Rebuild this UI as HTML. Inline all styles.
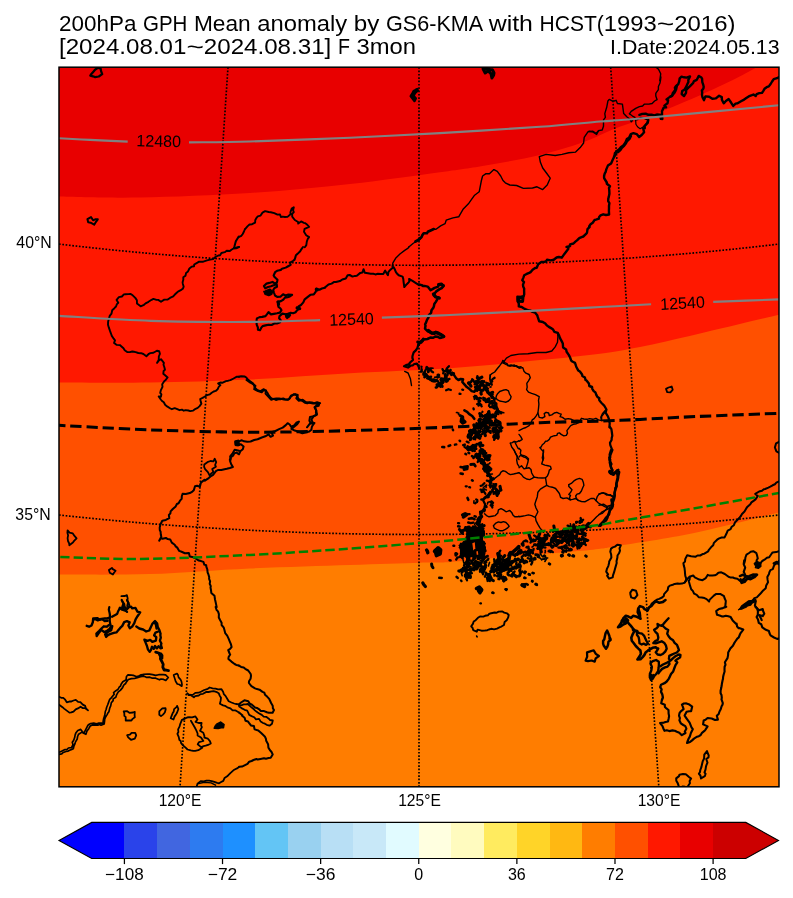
<!DOCTYPE html>
<html><head><meta charset="utf-8"><title>200hPa GPH Mean anomaly</title>
<style>
html,body{margin:0;padding:0;background:#fff;}
body{width:793px;height:898px;overflow:hidden;font-family:"Liberation Sans",sans-serif;}
svg{display:block;will-change:transform;font-family:"Liberation Sans",sans-serif;}
svg text{font-family:"Liberation Sans",sans-serif;}
</style></head><body>
<svg width="793" height="898" viewBox="0 0 793 898">
<rect width="793" height="898" fill="#fff"/>
<defs><clipPath id="mc"><rect x="59.0" y="67.2" width="720.0" height="719.6"/></clipPath></defs>
<g clip-path="url(#mc)">
<rect x="59.0" y="67.2" width="720.0" height="719.6" fill="#e80000"/>
<path d="M59.0 196.5C72.5 196.7 108.2 198.1 140.0 197.5C171.8 196.9 215.0 195.2 250.0 193.0C285.0 190.8 318.3 187.5 350.0 184.0C381.7 180.5 416.7 175.4 440.0 172.2C463.3 169.0 473.3 167.6 490.0 164.7C506.7 161.8 524.4 158.8 540.0 155.0C555.6 151.2 571.0 146.5 583.8 142.0C596.5 137.5 605.7 132.3 616.5 128.1C627.3 123.8 635.2 121.8 648.7 116.5C662.2 111.2 682.7 102.9 697.3 96.5C711.9 90.1 726.3 83.2 736.3 78.3C746.2 73.4 749.9 70.9 757.0 67.0C764.1 63.1 775.3 57.0 779.0 55.0L779.0 786.8L59.0 786.8Z" fill="#ff1800"/>
<path d="M59.0 382.5C74.2 382.5 118.2 383.0 150.0 382.5C181.8 382.0 216.7 381.0 250.0 379.5C283.3 378.0 316.7 375.2 350.0 373.3C383.3 371.4 418.3 370.5 450.0 368.3C481.7 366.1 515.0 362.5 540.0 360.1C565.0 357.7 583.3 355.9 600.0 353.7C616.7 351.5 623.8 350.2 640.0 347.0C656.2 343.8 673.8 339.6 697.0 334.2C720.2 328.8 765.3 318.0 779.0 314.8L779.0 786.8L59.0 786.8Z" fill="#ff5000"/>
<path d="M59.0 574.6C74.2 574.5 118.2 575.1 150.0 574.1C181.8 573.1 216.7 570.0 250.0 568.5C283.3 567.0 321.7 566.0 350.0 565.0C378.3 564.0 403.3 563.2 420.0 562.7C436.7 562.2 433.3 563.2 450.0 562.0C466.7 560.8 496.2 557.8 520.0 555.7C543.8 553.7 576.3 551.4 593.0 549.7C609.7 548.0 603.3 548.3 620.0 545.6C636.7 542.9 666.5 538.8 693.0 533.3C719.5 527.8 764.7 516.0 779.0 512.6L779.0 786.8L59.0 786.8Z" fill="#ff7d00"/>
<g id="coast" fill="none" stroke="#000" stroke-linejoin="round" stroke-linecap="round">
<path d="M90.3 75.6L91.4 73.9L93.8 71.2L95.0 69.7L97.9 67.8L100.7 68.8L101.0 70.9L102.2 74.1L98.8 76.5L95.2 77.1L92.9 76.3L90.3 75.6Z" stroke-width="2.24"/>
<path d="M87.4 219.1L91.0 217.1L93.1 220.3L95.6 219.2L97.8 219.3L96.0 221.8L94.2 224.7L90.6 222.7L88.2 222.3L87.4 219.1Z" stroke-width="2.02"/>
<path d="M417.2 89.2L415.7 90.0L413.7 91.2L412.5 93.4L410.8 96.2L413.0 98.9L414.5 100.9L415.7 98.4L413.4 96.0L415.2 92.7L417.8 90.3" stroke-width="2.6"/>
<path d="M239.0 236.8L241.4 235.8L242.7 234.0L243.6 232.3L245.0 229.0L244.9 229.3L247.4 226.4L249.5 224.5L252.1 224.2L255.1 222.7L255.3 220.0L256.3 218.2L257.8 216.4L260.4 215.7L262.5 212.6L265.1 211.1L268.7 212.0L270.8 212.3L274.3 213.1L277.5 214.6L280.0 214.5L280.9 217.0L282.6 216.6L285.0 217.0L287.5 216.9L290.5 214.3L290.4 212.3L291.7 208.6L293.8 207.2L293.1 210.3L293.8 212.2L292.2 213.9L292.2 216.7L294.8 220.0L298.1 222.0L298.2 223.6L301.1 221.4L303.9 222.8L305.0 223.1L307.3 224.8L309.1 226.9L304.6 228.8L304.0 231.8L306.2 235.2L309.1 237.1L307.8 238.8L306.8 241.6L306.3 245.1L304.8 247.3" stroke-width="1.9"/>
<path d="M483.0 68.8L485.2 73.0L488.1 70.9L491.0 73.6L491.9 78.0L493.6 75.2L494.0 72.9L492.5 69.8L490.4 69.7L487.1 68.6L483.0 68.8Z" stroke-width="3.0"/>
<path d="M419.0 239.5L421.6 237.1L422.3 235.3L423.7 233.2L426.9 233.3L427.8 231.8L431.2 230.2L433.8 229.0" stroke-width="2.6"/>
<path d="M433.8 229.3L436.0 229.3L440.6 225.9L445.1 223.6L446.2 220.2L453.0 217.9L458.7 216.8L463.3 208.9L468.9 203.2L474.6 195.2L479.2 191.8L481.4 180.5L482.6 176.0L486.0 173.7L489.4 173.7L493.9 169.6L497.3 171.4L500.7 176.0L503.0 180.5L505.3 182.8L509.8 185.0L516.6 185.5L523.4 188.4L532.5 188.0L537.0 186.8L542.7 189.6L547.2 185.0L550.2 178.2L546.1 172.5L542.7 168.0L540.4 162.3L539.3 156.7L546.1 154.4L555.2 155.5L562.0 154.4L568.8 152.8L575.6 152.1L580.2 147.6L583.6 143.0L584.2 137.4L588.1 131.7L592.6 131.2L596.0 133.3L599.0 130.6" stroke-width="1.4"/>
<path d="M566.5 247.0L570.1 246.1L570.0 244.4L573.5 243.5L575.4 241.6L577.0 240.4L579.3 238.1L581.6 237.1L583.3 236.5L585.8 234.2L587.0 232.7L587.5 229.2L589.7 226.9L589.2 226.1L590.6 224.2L592.7 222.7L594.6 220.0L595.9 219.7L599.0 218.7" stroke-width="2.4"/>
<path d="M589.0 131.2L592.8 131.9L596.6 134.4L598.5 130.6L602.2 130.0L603.5 126.2L603.5 119.9L605.4 117.4L604.8 113.6L606.7 107.3L607.9 101.0L609.2 99.4L611.7 100.7L614.2 101.0L616.1 100.3L617.4 103.5L622.4 104.1L623.0 108.5L623.7 113.6L626.8 116.7L630.0 119.2L631.2 121.8L632.5 120.5" stroke-width="1.4"/>
<path d="M629.4 113.8L631.2 111.3L635.7 108.3L639.4 106.6L642.6 106.0L644.5 104.1L648.9 104.1L652.1 103.5L654.6 101.0L657.1 99.7L655.8 95.9L655.8 93.4L658.4 89.6L658.4 86.5L659.9 83.3L660.6 79.5L660.9 77.0" stroke-width="1.4"/>
<path d="M629.4 113.8L632.5 116.1L635.0 117.4L635.7 120.5L635.9 124.3L637.5 126.8L640.1 128.7L642.6 127.4L645.1 124.9L647.0 122.4L647.6 119.9L645.7 119.2L643.2 118.0L640.7 117.4L638.8 118.6L636.9 119.9" stroke-width="1.2"/>
<path d="M639.4 114.8L642.2 113.9L645.7 113.7L648.3 114.8L652.2 114.8L654.5 115.3L657.2 114.5L659.9 114.7L660.9 118.9L662.4 119.0L662.0 116.3L662.0 114.5L662.0 111.3L663.7 107.6L666.1 107.4L664.4 105.6L667.5 103.3L668.1 100.3L666.5 99.4L669.9 96.9L672.2 95.9L672.7 93.2L674.8 90.6L676.1 89.6L676.9 85.7" stroke-width="2.4"/>
<path d="M648.3 119.9L647.7 123.0L644.8 125.9L644.7 128.4L643.2 128.5L644.1 132.3L641.7 135.0L639.1 137.1L636.7 134.1L633.4 133.2L630.8 134.1L629.0 137.7L626.8 139.1L625.3 142.7L623.3 145.4L620.8 147.3L618.9 149.5L616.0 151.4L615.2 155.0L614.0 157.0" stroke-width="2.4"/>
<path d="M599.0 217.3L600.6 215.3L603.2 214.3L606.0 215.0L609.1 214.5L608.9 210.8L609.0 208.5L609.0 205.8L609.4 203.1L608.2 201.2L608.3 198.6L608.8 196.9L609.4 193.7L609.3 190.6L609.0 187.8L610.0 186.3L606.8 183.7L606.8 182.5L604.1 178.1L604.1 175.9L604.8 173.3L605.7 171.8L606.3 169.4L607.9 165.6L611.1 163.4L612.6 160.1L613.8 157.4L614.5 155.7L614.9 153.2L618.1 152.2L620.4 150.1L621.9 147.9L623.7 146.2L626.0 143.2L626.9 141.4L629.5 138.9L631.0 136.0" stroke-width="2.4"/>
<path d="M670.5 96.5L672.2 95.4L674.1 93.3L675.4 91.2L674.9 87.7L675.9 86.2L678.2 84.3L679.2 81.4L679.7 78.3L681.5 76.7L684.1 77.3L686.5 77.6L690.0 76.4L688.3 80.1L688.4 81.9L687.5 83.8L686.4 86.4L684.3 89.8L682.2 91.1L681.7 94.0L684.0 96.1L686.0 92.8L686.2 89.8L688.4 87.6L689.8 86.3L690.8 85.3L693.0 83.2L694.0 81.1L696.8 79.8L698.8 75.9L701.4 77.5L702.1 78.8L702.3 82.1L703.1 84.3L703.7 86.7L703.4 88.5L701.9 90.5L702.2 92.7L702.0 95.0L702.5 97.3L704.0 100.2L705.4 96.4L709.2 96.8L712.3 98.7L715.7 98.4L716.9 97.6L719.1 95.7L721.8 97.1L721.9 99.7L723.7 103.3L725.9 101.0L728.7 99.1L730.9 102.3L733.2 105.9L735.6 103.6L737.6 103.3L741.0 101.2L744.1 99.6L745.9 98.2L748.7 96.4L751.9 95.2L753.5 94.5L755.7 96.0L756.7 94.1L759.3 93.1L762.0 92.9L763.5 90.6L764.5 88.8L766.7 87.2L768.8 86.4L770.6 84.0L772.1 81.5L773.7 79.2L777.0 78.2L778.7 77.2" stroke-width="2.4"/>
<path d="M655.7 67.0L658.5 69.3L660.7 73.8L659.8 80.6" stroke-width="1.4"/>
<path d="M239.0 247.0L236.1 248.4L233.4 248.5L231.4 249.7L229.8 251.0L226.7 250.8L224.8 252.2L221.4 253.0L220.1 255.2L218.3 255.5L215.4 257.0L213.1 259.1L210.1 259.6L207.0 260.4L204.0 261.3L202.7 261.8L199.1 261.6L197.5 262.6L194.2 264.5L194.1 266.2L191.9 266.6L189.4 268.5L188.0 271.4L186.1 272.9L185.5 275.7L183.3 277.3L183.3 279.8L182.6 282.3L182.8 283.7L183.7 286.7L182.8 288.8L180.8 290.1L178.0 291.6L177.0 292.5L174.6 294.8L173.2 296.4L170.0 297.9L167.7 299.6L164.3 299.6L161.0 301.8L158.2 299.9L156.5 299.9L153.4 298.9L151.6 299.8L148.5 301.8L145.6 303.4L144.0 304.8L140.6 306.3L137.0 303.6L136.9 300.3L135.3 297.9L132.7 295.3L130.4 293.9L128.2 294.1L125.5 294.2L123.9 294.4L121.9 296.5L118.9 297.1L116.6 299.9L118.3 302.8L116.9 304.2L116.0 306.5L114.4 308.2L112.2 310.2L111.5 313.6L109.7 315.9L108.6 319.8L108.1 321.8L108.0 324.7L108.8 327.4L110.0 330.9L110.9 333.3L111.8 335.9L113.7 338.7L115.0 340.4L114.1 342.9L116.8 344.9L119.9 345.1L121.2 346.2L123.5 348.3L124.7 350.2L127.2 352.0L129.9 352.1L132.2 351.5L133.9 351.8L135.7 352.1L138.3 353.0L141.1 353.2L143.4 354.0L146.4 356.2L148.9 353.8L150.3 353.1L153.4 352.8L156.9 350.7L159.2 351.2L159.9 353.8L158.8 356.5L158.8 358.1L158.7 359.9L157.1 362.8L158.9 360.5L161.0 359.2L163.9 362.9L163.5 364.8L164.3 367.0L165.0 369.8L163.6 371.0L163.3 373.7L164.8 375.0L167.6 377.5L165.7 379.9L164.4 381.0L162.2 384.3L162.5 386.9L160.9 390.1L160.2 392.9L161.4 394.4L160.9 396.8L158.7 396.5L160.8 399.5L162.0 401.0L163.8 402.3L165.1 404.8L167.1 406.4L170.4 408.5L171.9 409.2L174.7 408.2L177.3 409.2L179.5 410.2L182.0 409.6L183.8 410.7L185.6 410.1L188.4 410.5L190.2 411.1L193.2 410.6L195.6 408.8L197.7 407.9L199.6 406.1L201.4 403.6L200.7 401.6L200.2 399.0L202.6 397.9L204.1 397.0L207.0 395.2L209.9 394.3L211.7 392.8L213.7 391.5L215.7 390.9L217.6 389.3L218.7 386.9L220.4 385.2L218.1 383.5L220.7 382.5L222.7 382.7L225.9 381.1L228.3 380.7L230.4 380.2L233.6 378.5L236.9 376.7L239.0 376.7" stroke-width="1.9"/>
<path d="M303.0 247.0L301.3 249.3L300.2 251.2L297.5 253.9L295.9 255.2L295.6 256.6L294.6 259.6L292.9 261.0L290.1 262.7L290.7 264.8L287.7 266.5L285.7 267.6L282.0 268.7L280.7 269.7" stroke-width="2.02"/>
<path d="M325.0 287.6L326.1 286.6L328.5 284.5L331.6 283.6L334.2 281.9L335.9 282.0L340.0 281.1L342.3 279.5L345.8 278.5L347.6 275.3L349.7 275.0L352.5 276.6L355.0 275.9L356.8 275.7L360.3 272.9L362.4 272.5L363.6 269.2L364.8 272.8L367.9 273.2L370.7 273.7L373.3 273.8L375.4 274.4L377.9 273.8L380.6 274.0L383.3 273.9L385.2 270.6L386.6 273.3L387.9 275.2L388.5 271.8L390.2 269.9L393.5 267.1L394.9 269.6L395.8 271.9L396.7 273.2L398.7 275.3L402.6 276.6L403.3 279.0L403.6 282.1L403.9 284.1L404.3 287.0L406.8 284.2L408.0 283.1L409.4 281.4L409.1 279.0L412.5 280.9L416.3 283.4L419.1 285.2" stroke-width="2.02"/>
<path d="M392.2 266.3L392.9 262.9L395.6 258.3L400.2 253.8L404.7 250.4L408.1 248.1L408.8 247.0" stroke-width="1.4"/>
<path d="M419.0 342.3L418.0 345.7L417.3 348.2L415.8 350.4L413.7 352.4L412.5 356.0L412.4 357.9L413.0 359.9L410.1 362.5L408.8 364.4L406.0 365.2L404.0 366.2L408.0 367.5L411.0 365.5L412.9 365.3L414.3 364.0L416.9 363.6L418.6 366.4L419.2 368.5" stroke-width="2.24"/>
<path d="M404.7 371.4L408.1 373.0L410.4 378.7L411.5 385.5" stroke-width="1.4"/>
<path d="M239.0 376.8L241.2 376.2L244.8 376.6L246.3 377.5L247.9 379.6L250.1 381.2L252.9 383.2L253.9 384.7L254.8 387.7L256.9 389.8L259.5 391.0L261.0 390.9L263.8 389.2L267.2 392.4L268.8 395.4L270.8 397.9L272.8 399.1L276.4 398.5L279.0 398.5L281.9 399.1L284.1 399.6L287.7 399.8L289.1 398.7L291.0 396.4L293.7 394.3L297.1 395.4L298.3 398.9L300.5 400.0L302.8 401.2L304.9 402.7L307.3 403.3L309.1 402.3L311.9 402.6L313.4 403.0L316.4 403.7L319.3 403.1L318.7 405.7L314.8 406.9L316.3 410.6L315.9 412.3L316.5 415.0L313.7 416.0L311.4 419.8L312.9 422.7L309.7 423.8L307.0 427.3" stroke-width="2.02"/>
<path d="M419.0 284.5L421.7 285.1L423.3 286.1L424.6 285.9L427.7 286.6L430.6 290.3L432.9 288.9L434.6 287.9L437.6 286.9L439.4 284.5L443.7 285.5L441.9 288.0L439.6 289.1L436.3 291.4L434.8 293.2L433.8 295.5L436.5 297.0L438.4 297.2L437.1 299.7L436.0 301.6L434.3 304.0L434.0 305.9L433.5 307.5L431.5 310.3L431.1 312.9L428.9 315.1L428.5 317.4L427.0 319.9L426.0 322.7L425.1 324.3L425.5 325.8L425.0 328.6L427.8 331.3L431.4 332.9L433.6 333.0L435.9 332.0L438.7 334.0L440.6 334.2L444.2 336.6L441.0 337.7L439.7 337.9L437.3 336.7L435.2 336.6L433.2 337.8L430.3 337.6L427.4 339.0L425.7 339.2L423.3 339.6L421.2 341.0L418.6 344.8" stroke-width="2.5"/>
<path d="M568.4 247.0L568.2 249.1L566.3 251.4L564.4 253.9L563.2 255.6L561.8 257.7L558.8 257.0L556.6 257.5L553.7 259.8L550.8 260.4L547.0 259.8L546.3 261.0L544.6 261.9L541.3 262.0L538.2 264.2L536.7 267.7L535.1 268.0L532.6 269.7L530.7 272.1L529.1 272.9L526.2 274.2L524.2 275.3L523.4 277.6L522.3 280.2L524.0 282.1L523.0 284.6L523.2 286.6L524.2 288.7L524.1 290.4L524.2 294.3L523.7 296.1L520.8 296.9L517.4 296.6L517.4 299.6L517.6 301.5L518.8 303.5L518.8 306.4L521.7 307.0L523.6 308.2L525.3 309.1L528.2 310.3L530.1 310.4L532.6 311.9L535.0 312.5L537.2 315.2L537.8 317.2L539.2 321.3L542.8 322.0L545.3 323.6L546.7 325.3L548.5 326.6L551.0 328.1L553.1 329.6L554.4 331.8L557.8 332.9L559.2 335.8L559.8 337.6L560.7 339.4L562.3 342.4L562.8 343.5L563.1 347.5L566.1 349.4L566.6 351.8L568.9 355.1L570.1 357.5L571.2 360.6L572.3 361.5L575.0 362.8L576.0 365.9L576.5 367.2L578.2 370.4L579.9 371.5L582.1 374.4L582.4 375.9L584.9 377.5L585.6 380.2L586.5 380.4L588.9 383.4L589.3 386.0L592.0 387.0L592.3 388.8L593.7 391.1L595.4 392.4L596.2 394.6L597.3 396.8L599.3 398.2" stroke-width="2.4"/>
<path d="M518.9 297.4L523.0 297.2L522.6 301.4L519.0 301.3L518.9 297.4Z" stroke-width="3.0"/>
<path d="M557.5 332.8L557.9 336.7L557.5 342.3L555.2 346.9L551.8 351.0L546.1 352.5L537.0 352.5L528.0 353.7L518.9 354.1L510.9 355.5L506.4 358.2L503.0 362.8" stroke-width="1.4"/>
<path d="M503.0 362.8L506.4 364.6L509.8 366.2L514.3 365.0L517.7 367.3L521.1 366.8" stroke-width="1.4"/>
<path d="M666.0 388.9L668.5 387.5L671.7 386.5L672.7 389.8L670.4 392.4L667.2 392.1L666.0 388.9Z" stroke-width="1.79"/>
<path d="M599.0 398.6L599.3 400.3L601.3 402.7L604.2 405.6L606.5 409.5L605.6 412.7L607.9 416.3L608.9 419.0L609.1 420.4L609.7 423.3L609.4 427.3" stroke-width="2.24"/>
<path d="M606.3 409.3L602.4 413.8L600.8 417.2L601.7 420.6L609.2 420.6" stroke-width="1.4"/>
<path d="M239.0 450.8L234.7 449.8L232.8 453.1L230.2 456.4L230.8 458.7L230.1 461.2L231.1 464.0L232.9 467.0L229.8 468.0L226.8 468.8L224.5 469.3L221.3 470.1L217.9 470.0L215.9 471.2L213.1 474.8L210.5 476.5L208.7 478.1L204.9 480.6L204.5 479.7L202.2 481.6L200.8 482.9L199.9 486.7L197.1 485.7L195.0 486.3L193.8 490.3L192.4 491.6L189.8 493.1L185.8 494.0L182.6 493.7L181.8 496.3L181.7 498.8L180.0 500.7L178.6 503.3L176.9 504.0L175.7 506.4L172.8 509.0L170.6 511.4L170.4 513.3L168.9 515.0L169.3 518.1L165.8 519.9L162.3 520.7L160.4 524.5L159.7 527.4L159.8 530.1L160.6 531.8L160.8 534.6L161.3 536.7L159.2 540.7L160.9 538.0L162.5 538.7L165.9 537.9L167.7 539.1L170.2 539.4L171.8 542.6L174.7 544.7L175.7 546.4L177.5 547.9L179.2 550.9L181.6 551.8L184.9 553.2L188.9 553.1L189.8 556.5L192.3 556.9L195.0 558.0L198.8 560.6L201.1 561.1L203.4 561.9L204.3 564.6L206.2 565.2L206.3 566.6L207.3 569.3L207.6 572.5L208.3 574.0L209.2 577.1L209.1 578.8L210.1 581.3L209.7 583.8L210.8 586.1L210.5 587.5L211.1 590.8L211.3 592.9L213.6 595.0L214.5 595.8L215.0 599.5L215.5 601.6L216.0 603.9L216.7 607.1" stroke-width="2.02"/>
<path d="M204.3 464.5L207.4 462.2L210.5 461.0L213.5 461.3L214.7 458.7L216.2 462.1L215.1 465.0L215.9 466.7L212.2 469.0L213.4 472.1L211.2 473.6L209.7 475.6L207.9 472.1L205.1 469.1L204.1 466.9L204.3 464.5Z" stroke-width="1.79"/>
<path d="M67.6 530.3L69.5 532.6L72.8 533.4L74.7 536.2L76.6 538.4L74.1 540.9L72.9 542.5L69.3 545.2L69.2 543.5L68.0 541.0L67.6 538.2L68.1 535.3L67.4 532.8L67.6 530.3Z" stroke-width="1.79"/>
<path d="M108.9 570.0L111.9 567.9L112.8 569.1L115.6 570.7L114.0 572.7L112.9 574.6L109.8 572.7L108.9 570.0Z" stroke-width="1.79"/>
<path d="M121.4 596.1L124.8 596.0L126.9 595.1L127.7 598.4L127.3 600.7L128.4 602.4L129.4 605.1L129.2 607.0" stroke-width="1.79"/>
<path d="M122.6 601.8L124.4 604.0L124.7 607.1" stroke-width="1.79"/>
<path d="M235.6 441.8L238.0 441.1L238.6 444.7L235.9 444.7L235.6 441.8Z" stroke-width="3.0"/>
<path d="M246.5 380.0L249.3 382.0L252.4 383.7L255.4 385.9L254.2 389.1L258.0 391.0L261.7 392.2L263.7 390.0L266.1 390.6L265.5 393.6L268.3 396.5L271.3 399.7L273.9 398.9L275.9 399.9L278.4 399.3L280.4 399.2L283.2 398.4L284.8 399.2L288.8 399.4L289.9 398.2L290.9 395.7L295.2 394.1L297.7 395.0L296.3 398.3L298.8 400.7L302.7 399.7L305.7 402.1L309.4 402.7L313.2 403.6L317.1 402.2L320.1 403.1L317.0 405.0L314.6 407.5L316.1 410.2L317.0 414.3L313.9 416.2L310.0 417.0L309.4 420.7L310.7 423.2L314.5 423.0L312.5 425.6L311.8 427.2L311.4 429.7L309.3 431.5L305.2 432.5L302.4 433.2L298.9 431.7L294.7 430.6L291.4 428.9L293.9 427.0L297.2 424.2L298.9 421.6L296.7 422.4L294.2 425.5L291.1 426.8L289.7 424.5L287.6 423.2L285.8 425.1L282.7 427.6L279.1 429.2L275.5 431.0L271.4 432.2L273.0 435.6L270.6 436.8L268.6 434.3L265.3 436.3L261.8 437.5L257.6 439.3L254.2 440.0L250.6 441.5L247.2 441.8L244.1 441.3L241.9 440.3L238.7 441.4L236.0 442.7L237.7 445.2L240.9 444.3L243.6 446.5L242.8 449.3L240.3 451.3L239.0 454.3L236.5 452.6L234.4 453.2L233.0 455.7L230.9 457.2L229.8 459.8" stroke-width="2.02"/>
<path d="M609.9 427.0L611.4 429.2L611.9 432.5L612.3 435.7L611.7 438.1L611.6 440.0L610.0 442.8L610.3 445.1L611.7 448.6L610.6 451.2L609.6 454.5L610.3 457.0L609.3 459.8L611.5 464.0L610.7 465.8L611.2 468.0L612.5 470.1L610.6 473.4L613.7 473.7L615.2 472.4L617.1 470.3L619.3 472.2L618.4 476.0L618.2 478.1L617.6 480.5L616.6 483.5L616.8 485.8L615.3 487.9L615.2 490.3L614.6 492.8L614.6 496.0L614.3 498.5L613.0 502.1L612.1 503.9L612.3 506.4L610.2 509.7L609.6 511.7L609.2 514.2L607.1 516.7L605.9 517.7L603.4 521.3L602.4 522.3L600.1 524.6L598.9 525.9" stroke-width="2.24"/>
<path d="M599.0 494.0L603.5 492.8L606.9 495.1L610.3 494.6L613.1 497.4" stroke-width="1.4"/>
<path d="M599.0 505.3L603.5 504.2L606.9 506.4L610.3 505.3L609.2 509.8" stroke-width="1.4"/>
<path d="M599.0 514.4L602.4 513.3L605.8 509.8L608.1 506.4" stroke-width="1.4"/>
<path d="M606.9 568.9L608.3 566.1L609.1 563.1L609.2 561.6L611.4 557.6L611.1 554.2L610.3 551.7L611.0 548.6L612.8 547.4L615.0 546.6L617.3 544.8L620.8 545.3L619.5 548.4L620.0 550.6L619.0 553.3L617.5 555.5L617.4 557.6L616.5 561.2L616.7 563.0L615.7 566.4L614.9 569.2L614.1 572.2L613.0 575.3L612.7 577.4L609.1 578.6L607.1 575.6L608.1 574.4L606.2 571.7L606.9 568.9Z" stroke-width="2.02"/>
<path d="M630.3 592.7L632.4 589.7L636.0 590.7L637.4 595.1L634.6 598.5L631.2 597.4L630.4 594.3L630.3 592.7Z" stroke-width="2.02"/>
<path d="M779.0 481.5L776.3 482.7L774.9 484.3L772.6 485.3L770.3 486.7L768.4 487.6L765.1 489.0L763.8 489.3L762.0 490.8L759.1 491.5L755.3 493.9L757.8 496.0L755.5 499.4L753.9 500.6L751.4 502.4L750.3 504.2L747.5 506.7L746.1 508.7L744.5 511.5L742.0 514.0L740.9 516.0L739.7 517.4L737.3 520.0L735.1 522.2L733.9 525.2L731.7 526.8L730.6 529.1L727.7 530.6L726.4 533.8L724.6 537.4L721.6 537.5L719.2 538.4L717.1 539.7L713.9 542.9L713.2 545.3L711.2 547.1L708.9 549.8L708.2 551.3L704.3 553.7L703.0 553.9L700.2 555.5L697.5 555.5L695.7 556.7L693.3 556.4L691.1 556.2L687.2 555.3L685.3 558.9L685.0 561.6L683.4 563.2L683.8 565.6L684.5 567.9L684.9 571.3L685.0 573.1L685.3 576.0L686.1 578.2L686.1 580.1L684.7 582.6L681.9 583.6L679.5 583.7L677.5 583.4L674.7 583.9L672.8 584.7L669.8 585.6L668.2 587.3L667.7 590.1L666.3 591.6L664.1 594.1L663.8 596.0L662.1 597.5L659.2 598.9L657.5 599.4L654.4 601.4L651.6 603.8L650.2 606.9" stroke-width="2.02"/>
<path d="M779.0 441.8L776.1 443.3L774.9 447.5L776.4 451.3L778.8 452.7" stroke-width="2.02"/>
<path d="M684.8 582.5L685.8 581.2L687.5 578.8L689.6 576.8L693.2 575.5L694.8 577.4L697.8 578.8L699.3 579.6L702.5 580.2L705.8 578.1L707.7 574.9L709.6 575.6L712.4 575.5L714.9 575.3L716.8 574.3L718.4 572.7L721.3 572.3L724.8 574.0L728.5 576.8L730.8 577.6L733.0 577.5L734.7 578.3L737.4 578.8L741.0 581.6L742.4 580.0L744.6 578.1L746.9 576.2L748.8 577.5L752.6 577.1L753.2 575.5L756.7 574.8L754.2 575.1L754.0 576.2L751.1 578.5L748.6 578.5L746.8 579.6L744.8 582.1L741.7 583.1" stroke-width="2.02"/>
<path d="M689.8 576.8L689.6 579.7L688.7 580.8L689.5 583.7L690.1 585.9L691.2 589.2L692.8 590.9L694.2 593.7L696.7 594.8L698.7 597.2L701.8 597.6L704.5 598.1L706.6 599.1L709.1 601.6L709.5 599.9L712.3 597.1L713.8 595.6L715.9 594.1L717.4 593.9L720.6 594.1L724.0 596.2L724.5 598.0L725.8 600.9L725.6 603.5L725.1 607.2" stroke-width="2.02"/>
<path d="M744.3 563.2L745.1 560.1L745.4 557.5L746.5 554.6L749.1 553.0L750.7 551.8L753.3 551.2L756.4 553.2L757.2 555.9L757.8 558.4L756.6 560.2L756.9 563.2L759.3 565.8L760.9 562.7L762.2 561.0L764.5 559.7L766.9 557.8L769.2 557.2L771.4 554.0L772.6 552.4L776.2 552.1L778.9 551.2" stroke-width="2.02"/>
<path d="M779.0 560.9L777.5 562.9L774.7 564.5L773.9 565.9L772.8 569.1L770.4 570.1L769.3 572.5L769.0 574.1L767.3 577.0L767.6 579.9L768.0 582.2L766.2 585.5L765.7 588.2L763.2 590.4L761.0 593.0L759.8 594.3L756.8 597.4L754.4 598.1L753.7 599.3L751.7 601.3L749.2 602.8L746.6 604.1L744.7 605.1L742.1 607.2" stroke-width="2.02"/>
<path d="M59.0 752.3L61.5 751.3L65.0 749.5L67.0 749.5L68.4 748.0L71.6 747.5L73.0 744.7L72.3 742.3L73.5 740.6L74.6 737.8L75.1 735.1L75.8 733.1L77.8 730.5L80.7 729.4L82.3 731.5L83.9 733.2L84.8 731.4L87.1 726.9L87.5 726.1L88.4 724.8L90.7 723.5L93.8 723.1L96.3 723.7L98.3 723.2L101.2 723.1L103.6 723.0L103.1 721.4L103.6 718.8L104.6 715.8L104.9 714.3L105.3 711.5L106.2 709.3L106.6 707.5L107.7 704.8L108.4 702.9L109.7 699.3L111.0 698.1L114.2 694.3L113.6 692.7L115.9 690.7L117.8 689.6L119.4 686.8L120.5 686.2L121.1 684.2L122.8 681.7L126.2 679.7L126.2 678.3L126.5 676.5L128.0 674.8L131.4 675.2L133.3 675.4L136.2 676.5L138.0 676.4L141.1 674.8L142.8 674.5L143.6 674.4L147.6 674.0L149.5 674.1L152.7 674.6L155.6 675.4L158.7 674.7L161.0 674.6L163.2 674.7L165.6 674.9L168.3 677.5L165.8 680.4L163.6 679.4L161.0 679.0L159.5 679.8L155.7 678.2L152.4 678.2L149.8 677.2L146.7 677.4L145.3 676.8L143.3 676.1L140.5 676.8L137.4 677.8L134.7 678.4L131.5 678.6L128.3 679.5L126.3 682.2L125.6 683.5L123.7 685.1L122.6 687.6L120.3 690.4L118.3 691.9L116.7 694.6L115.8 697.2L113.2 698.9L113.1 700.6L111.3 702.8L110.7 705.9L109.8 707.9L108.9 711.7L107.7 713.3L107.1 714.6L105.6 717.0L104.7 719.2L104.6 720.9L104.2 723.9L101.0 725.2L99.6 724.5L97.8 725.2L95.3 724.8L91.9 725.2L90.2 726.0L88.9 728.4L87.0 731.1L85.9 734.3L83.6 733.3L82.0 732.1L78.6 734.2L77.6 736.5L77.2 739.0L75.4 742.1L75.0 743.6L73.8 746.5L73.3 748.8L71.3 749.6L68.2 751.1L65.9 751.5L62.8 752.7L61.7 753.9L58.8 754.4" stroke-width="1.68"/>
<path d="M173.6 675.1L177.0 673.5L177.9 674.8L178.6 677.4L180.6 679.6L181.5 681.6L182.0 684.7L181.8 686.2L179.3 684.5L177.3 684.0L175.6 681.3L175.0 679.2L173.6 675.1Z" stroke-width="1.68"/>
<path d="M187.2 693.3L189.4 695.1L193.1 694.6L195.3 692.9L198.6 692.7L201.4 691.5L204.2 690.0L207.8 688.8L209.7 687.5L212.6 688.3L215.5 688.6L218.1 689.3L221.5 689.2L223.1 691.7L223.8 694.1L225.5 695.9L227.2 698.7L228.7 701.3L231.5 702.5L234.1 703.5L235.9 704.0L239.2 704.4" stroke-width="1.79"/>
<path d="M188.4 695.1L190.2 694.7L193.9 697.3L195.1 696.1L198.7 695.5L200.6 694.1L203.0 693.8L206.4 691.9L208.5 692.0L211.7 691.4L213.6 691.2L217.0 692.2L218.7 693.2L219.7 695.6L221.0 697.8L220.6 700.9L219.9 703.7L223.1 705.4L225.0 705.8L227.3 707.3L230.4 708.3L232.6 710.4L235.0 710.3L235.7 710.6L239.3 712.8" stroke-width="1.79"/>
<path d="M123.7 711.4L127.2 711.2L129.4 712.8L132.9 712.5L134.8 711.8L134.6 714.9L134.8 717.3L132.6 718.9L131.4 720.5L129.0 720.4L125.7 720.5L125.7 716.9L124.4 715.9L124.3 713.1L123.7 711.4Z" stroke-width="1.79"/>
<path d="M127.1 735.2L129.9 734.7L131.6 732.8L135.2 732.8L136.2 735.3L134.8 738.6L131.0 739.8L128.2 737.4L127.1 735.2Z" stroke-width="1.79"/>
<path d="M159.3 711.4L162.1 708.5L165.5 708.2L165.7 709.5L164.8 712.5L163.0 714.6L161.0 716.1L159.3 714.7L159.3 711.4Z" stroke-width="1.79"/>
<path d="M170.7 718.2L171.3 716.6L172.9 712.7L173.7 711.6L174.1 709.1L176.7 706.9L177.1 705.9L178.4 709.0L177.0 712.7L175.6 715.1L174.6 716.4L173.5 719.5L170.7 718.2Z" stroke-width="1.79"/>
<path d="M183.4 719.4L187.1 717.5L189.1 717.2L192.1 717.4L195.4 716.4L197.5 719.5L195.5 721.8L198.7 723.0L201.6 723.0L201.1 725.4L201.9 727.1L200.0 730.8L203.3 732.7L204.4 735.9L204.4 737.7L207.9 738.7L209.9 741.1L210.8 743.4L208.8 744.6L205.7 745.7L203.6 746.2L201.1 747.1L197.7 744.3L199.1 742.1L203.4 741.0L201.0 737.4L197.6 735.4L197.6 733.5L196.3 730.4L194.8 727.5L192.8 724.0L190.9 720.7" stroke-width="1.79"/>
<path d="M183.4 719.4L181.9 719.9L180.2 724.1L179.5 726.7L178.1 729.4L178.4 732.0L177.4 733.8L178.7 736.9L179.4 740.0L180.7 740.9L181.1 743.2L183.0 745.4L185.6 747.7L187.5 749.5L190.8 750.4L193.2 750.9L195.2 750.8L198.3 750.2L202.3 747.7" stroke-width="1.79"/>
<path d="M214.0 728.2L215.2 725.7L217.0 723.7L220.8 721.9L224.2 724.4L223.6 727.9L221.1 728.0L218.2 728.6L214.1 728.3Z" fill="#000" stroke-width="1.2"/>
<path d="M239.0 767.0L237.0 768.4L235.2 769.3L233.4 770.3L230.6 772.8L228.6 774.8L227.2 776.3L224.5 778.1L223.3 780.9L220.7 782.3L219.1 783.3L217.2 782.9L214.3 781.9L211.7 781.1L209.1 780.7L206.4 780.7L203.9 781.4L200.7 781.1L197.5 783.8L196.5 786.9" stroke-width="1.79"/>
<path d="M198.6 783.6L204.3 782.2L211.1 782.9L215.6 785.2" stroke-width="1.4"/>
<path d="M59.0 696.7L61.3 697.8L63.3 697.9L64.9 699.3L66.8 702.3L70.0 701.3L71.4 701.5L73.5 700.5L75.8 699.9L78.1 701.9L80.4 702.1L82.8 704.6L85.2 705.9L86.0 708.4L88.0 710.3L85.2 708.2L82.6 708.1L80.6 706.7L77.9 708.4L75.7 709.4L73.5 711.6L71.3 712.4L69.4 712.6L67.1 710.9L64.1 708.6L62.5 707.2L59.1 704.7" stroke-width="1.79"/>
<path d="M215.6 607.0L216.6 610.0L218.0 611.4L218.9 614.1L218.8 617.5L220.2 620.3L221.6 622.7L221.6 625.0L223.8 627.7L224.3 629.6L225.2 633.1L227.2 635.6L228.6 638.6L229.7 641.3L231.0 644.4L231.6 647.0L230.1 648.8L228.2 650.0L229.6 653.5L230.2 654.5L228.6 657.0L228.4 658.9L231.4 661.6L234.6 664.0L236.2 664.9L238.8 665.4" stroke-width="2.02"/>
<path d="M239.0 665.6L241.1 666.9L243.7 667.5L245.2 668.8L248.2 670.5L250.7 674.0L251.0 675.8L250.6 678.7L249.0 681.2L248.9 683.0L251.4 686.2L255.0 688.4L257.0 689.1L259.5 689.7L262.5 691.8L264.3 692.7L265.0 694.7L267.1 696.6L269.2 698.9L270.2 701.0L271.1 703.0L272.7 705.7L272.9 708.3L274.0 710.1L272.6 712.7L268.8 712.7L266.9 712.3L264.1 711.1L260.9 711.1L259.6 709.7L256.9 707.9L255.0 707.6L251.4 704.3L249.6 703.5L248.3 701.2L244.4 700.3L241.0 702.5L239.0 704.5" stroke-width="2.02"/>
<path d="M239.0 705.7L241.7 705.1L243.7 704.4L246.0 704.4L247.9 704.0L251.2 707.1L253.9 709.3L254.8 710.4L257.7 712.5L259.2 713.4L261.8 714.9L263.7 716.6L266.2 716.8L268.8 718.7L269.9 720.0L272.8 720.5L272.0 723.7L269.5 725.7L266.7 724.8L264.9 723.7L263.0 723.0L260.7 721.6L259.1 718.9L256.0 719.3L254.1 717.2L251.6 716.1L249.2 714.9L248.1 712.3L247.2 710.6L244.6 709.8L241.5 708.1L239.2 706.6" stroke-width="1.79"/>
<path d="M239.0 712.5L242.4 715.3L242.1 715.7L244.6 717.8L245.5 720.8L248.0 721.5L249.0 722.9L250.9 725.4L253.9 726.0L254.6 729.4L258.3 730.5L261.2 733.1L262.5 734.3L264.8 736.4L265.9 738.7L266.2 740.8L268.1 744.2L268.4 747.6L270.0 750.2L271.4 751.7L272.7 754.4L270.7 757.7L268.6 758.1L266.0 758.8L264.0 758.2L260.5 759.0L257.7 759.6L256.5 759.0L253.5 760.0L251.6 761.0L249.2 761.7L247.5 763.9L245.5 764.9L242.0 766.6L239.1 766.7" stroke-width="2.02"/>
<path d="M471.2 626.3L472.9 623.9L473.7 621.5L475.7 620.2L477.9 617.8L480.0 616.5L483.3 616.6L485.1 615.8L487.9 615.3L489.0 614.0L491.3 613.2L494.6 612.5L496.6 612.8L498.6 611.6L502.4 611.5L504.2 612.6L507.1 613.3L508.7 615.0L508.2 617.4L506.7 620.3L504.6 622.0L504.0 625.0L501.0 626.8L499.9 627.2L497.0 628.6L494.1 629.4L491.2 628.8L488.9 629.5L487.4 630.2L484.5 630.6L481.5 630.7L477.6 629.7L476.8 631.7L473.2 630.1L472.6 627.9L471.2 626.3Z" stroke-width="1.9"/>
<path d="M476.7 636.1L477.1 636.8" stroke-width="1.68"/>
<path d="M587.0 652.4L590.3 651.4L593.7 650.3L595.8 653.8L598.9 656.0L595.7 658.3L594.7 661.7L591.7 660.5L588.0 661.2L585.6 660.6L587.2 656.6L587.0 652.4Z" stroke-width="2.24"/>
<path d="M661.9 700.1L661.2 703.2L664.8 704.8L664.9 706.9L665.8 707.8L668.5 710.0L668.6 713.5L669.1 716.1L668.6 718.8L668.0 721.5L665.6 722.0L663.9 722.6L660.1 723.0L662.5 726.1L663.6 729.0L664.5 730.8L666.7 730.3L669.3 731.1L672.5 730.4L674.8 730.7L676.9 731.7L679.3 732.7L681.8 735.2L685.5 733.0L684.8 731.6L686.4 728.7L685.3 726.1L683.3 725.0L680.8 723.3L679.4 720.2L679.9 718.2L679.0 715.7L679.5 713.2L680.8 711.3L683.6 709.1L682.8 706.6L681.9 704.6L683.8 703.5L686.4 703.4L688.7 704.2L692.2 706.6L691.1 711.2L689.2 711.2L686.6 711.7L684.6 715.6L685.5 717.0L687.2 719.3L689.6 722.6L690.8 725.7L691.5 727.4L692.8 729.2L690.9 733.0L689.8 736.6L688.7 738.5L687.4 741.7L687.0 743.0L690.1 741.9L691.8 740.6L694.0 738.6L697.1 736.7L698.9 736.2L700.7 735.0L702.0 732.8L704.7 730.7L705.5 729.6L707.6 726.4L703.1 724.4L703.7 720.5L705.5 719.8L707.6 718.0L711.7 718.5L715.0 720.0L717.9 719.6L716.8 715.8L718.7 714.0L719.5 711.5L720.7 709.3L721.6 706.3L722.5 704.7L722.8 703.0L721.5 699.4L721.8 697.8L721.5 695.1L720.6 693.3L720.6 690.7L721.2 688.1L721.7 685.5L721.9 683.7L722.6 680.3L723.0 678.7L723.1 677.0L723.6 674.7L724.6 671.5L724.5 669.7L724.6 666.7L725.5 664.7L724.9 662.3L726.0 660.5L727.5 658.1L728.1 655.1L728.2 652.4L730.1 648.9L730.6 648.2L732.9 645.8L734.1 643.4L735.3 641.5L737.3 638.6L738.8 637.4L739.9 634.5L740.6 633.1L743.3 629.6L739.1 628.0L738.7 628.2L737.1 626.6L736.6 623.7L736.2 624.0L732.7 620.5L730.7 617.1L728.3 616.3L725.8 615.8L723.2 616.5L721.7 616.4L719.7 615.5L717.0 614.7L716.2 611.1L719.0 609.0L722.8 608.1L726.3 606.8" stroke-width="2.13"/>
<path d="M755.6 607.0L757.2 608.6L757.9 611.3L757.8 614.8L756.6 617.0L758.0 619.5L758.8 622.9L761.2 624.2L762.3 627.4L765.9 629.8L768.9 631.0L769.5 633.3L770.5 635.4L774.0 637.5L777.1 638.9L778.8 638.6" stroke-width="2.13"/>
<path d="M603.1 641.0L604.3 639.3L604.8 636.8L605.5 633.4L607.1 630.5L608.6 634.0L609.3 635.8L610.2 640.2L608.5 641.6L608.1 644.5L607.3 646.8L606.0 648.7L603.7 645.5L603.1 643.6L603.1 641.0Z" stroke-width="2.46"/>
<path d="M698.9 773.8L700.0 772.0L700.3 770.0L701.4 767.1L701.9 764.7L702.8 761.1L704.1 758.5L704.2 756.5L704.3 754.7L707.0 751.1L707.2 752.0L708.7 755.4L708.5 757.4L706.3 759.0L707.5 762.7L706.4 765.2L706.0 766.4L705.5 769.6L704.5 772.4L705.6 773.8L704.8 776.2L701.0 778.4L700.4 775.5L698.9 773.8Z" stroke-width="2.02"/>
<path d="M676.2 778.4L679.0 776.1L679.4 774.8L683.0 774.1L685.8 774.3L687.3 775.6L688.7 776.8L691.1 778.6L689.6 781.1L689.9 783.2L688.4 785.5L687.7 786.9L685.1 786.8L682.4 786.6L680.6 787.2L678.7 787.2L678.5 785.3L677.7 783.1L676.3 780.8L676.2 778.4Z" stroke-width="2.02"/>
<path d="M424.5 373.5L424.7 373.8L426.5 374.8M421.7 367.6L421.2 366.9L421.9 366.5M423.2 375.0L424.7 374.2L426.3 373.7M421.5 370.1L421.6 368.4L421.1 366.4M425.3 374.2L425.6 374.9L427.0 374.2M428.5 368.6L431.6 368.1L433.1 368.2" stroke-width="1.6"/>
<path d="M420.6 371.7L421.8 371.5L421.7 369.7M424.5 372.0L424.4 371.6L424.6 372.9M423.6 373.2L424.4 372.2L426.0 369.2M430.1 368.8L431.6 371.4L433.1 372.2" stroke-width="2.3"/>
<path d="M426.8 367.4L428.5 369.4L428.3 371.6M423.8 374.0L424.9 374.6L426.8 375.8M424.9 373.6L425.8 375.4L424.7 376.9" stroke-width="3.1"/>
<path d="M434.6 377.3L436.2 377.5L438.1 377.2M428.9 379.4L430.1 378.7L430.1 376.9M441.9 381.9L443.3 382.1L443.1 382.0M435.2 377.4L436.9 377.0L439.0 377.2M426.8 378.6L429.5 379.6L430.3 380.4M438.3 384.3L437.9 384.0L439.3 384.4M437.2 377.7L437.9 377.6L439.8 377.1" stroke-width="1.6"/>
<path d="M438.9 383.4L439.2 383.0L440.5 384.0M428.2 376.4L429.5 377.2L431.1 376.7M438.6 384.2L439.7 384.3L441.0 385.7M436.9 380.4L437.2 380.6L438.5 382.3M435.7 387.5L436.5 387.6L437.9 386.1M441.6 385.0L441.3 384.5L442.9 382.9M432.3 381.1L434.0 381.4L437.0 380.1M439.0 384.0L438.7 382.5L437.7 380.9M426.8 375.9L428.7 377.0L430.7 377.3" stroke-width="2.3"/>
<path d="M437.7 376.8L438.7 375.1L438.0 375.1M431.9 380.1L434.0 379.7L435.0 380.4M427.8 377.6L428.6 377.4L430.2 378.5M432.1 380.5L434.2 380.7L435.8 380.9M439.8 383.6L441.1 385.2L440.5 386.3M437.0 384.8L439.4 385.3L440.6 385.5M440.9 379.6L441.4 378.8L443.8 379.3M441.5 381.8L443.1 381.6L443.2 381.9M439.1 384.8L440.7 385.9L442.2 386.3" stroke-width="3.1"/>
<path d="M444.6 379.0L446.8 378.2L447.0 376.6M447.4 370.8L449.4 371.2L451.0 370.1" stroke-width="1.6"/>
<path d="M446.9 370.3L447.7 371.3L448.2 372.5M445.3 370.8L446.2 371.5L448.7 372.5M446.3 369.6L447.0 368.2L448.9 366.2M449.3 373.2L449.6 372.5L450.4 369.9M446.1 381.7L448.4 379.4L449.5 378.9M443.2 373.4L443.8 371.6L442.5 369.1M451.3 373.0L451.4 374.4L452.5 374.2M447.1 370.5L447.7 373.3L447.5 375.2" stroke-width="2.3"/>
<path d="M451.4 374.5L452.2 374.0L453.6 373.6M445.7 380.4L447.3 380.9L447.1 379.9M445.3 374.6L445.6 377.5L444.7 379.5M447.5 370.4L447.9 371.5L448.0 371.1" stroke-width="3.1"/>
<path d="M452.0 372.6L454.1 375.1L456.4 378.6L458.4 380.0L460.7 379.0L463.1 379.3L462.3 382.0L464.4 384.4L466.8 387.1L469.6 389.1L471.7 391.1L474.4 391.8" stroke-width="2.46"/>
<path d="M477.6 386.3L479.2 386.7L479.0 387.3M485.7 389.6L486.8 389.1L486.1 390.3M491.9 380.5L491.6 381.1L492.6 381.7M482.9 386.6L483.9 387.2L484.0 388.8M490.1 387.1L490.5 387.0L491.0 386.9M469.2 382.0L469.3 382.1L469.7 383.1M477.5 388.8L477.9 388.1L476.8 389.1M484.5 389.2L485.3 390.1L486.4 390.6" stroke-width="1.6"/>
<path d="M472.1 379.2L473.2 380.1L473.4 380.8M478.6 379.6L478.7 381.7L478.2 383.1M486.1 385.6L486.7 384.9L489.2 385.2M483.5 389.3L484.9 388.4L486.6 386.0M481.7 383.1L481.9 384.0L481.9 385.4M475.4 381.8L475.2 383.1L474.6 384.3M478.9 388.6L479.0 388.1L478.4 389.2M478.2 386.1L477.7 386.6L477.9 388.0M478.0 389.1L479.6 390.1L479.1 389.3M485.5 385.3L485.9 387.1L488.0 388.6M486.9 391.1L487.5 392.8L489.8 394.1M486.2 382.7L487.3 383.2L489.8 384.0M482.0 384.0L483.6 384.6L484.3 386.7M480.3 382.1L481.6 381.8L482.4 380.9M474.0 381.8L476.2 381.2L478.4 382.2M491.6 392.7L491.8 393.5L492.7 394.5M476.3 383.8L477.3 385.5L478.6 388.0M471.3 381.0L471.4 381.7L469.9 382.7M477.8 379.1L477.8 380.0L478.5 380.2M492.1 380.0L492.6 379.1L494.6 377.8M477.4 376.1L477.6 378.7L478.7 380.1M477.2 384.0L477.5 385.1L476.1 386.7M477.1 389.6L477.9 389.7L477.1 390.9M491.3 382.5L491.1 382.8L491.8 384.7M481.7 382.6L481.7 383.2L480.5 384.1" stroke-width="2.3"/>
<path d="M481.2 381.8L481.5 383.2L479.9 386.5M481.4 390.3L481.5 390.6L483.0 390.2M475.4 387.1L476.4 389.0L475.5 390.3M478.8 387.3L479.5 388.0L479.0 388.6M481.1 382.9L482.4 382.7L482.3 384.4M476.9 388.4L479.0 387.5L480.4 385.9M486.9 390.1L486.5 390.0L487.9 391.3M477.3 377.8L479.6 378.5L481.9 377.2M481.2 392.3L480.9 393.1L481.3 394.1M468.4 383.0L469.8 384.3L471.0 386.1M481.7 381.9L481.8 382.6L483.9 381.6" stroke-width="3.1"/>
<path d="M473.6 396.6L476.4 398.7L477.7 398.8M478.0 404.0L478.7 405.5L478.3 406.0" stroke-width="1.6"/>
<path d="M483.3 399.1L484.3 400.0L484.6 400.2M478.7 400.2L478.6 399.9L480.2 401.0M478.8 402.9L480.3 403.9L481.7 406.3M478.5 401.9L478.7 400.9L479.7 401.1M476.3 396.2L477.3 398.0L477.1 399.2M475.1 395.8L474.6 397.5L474.6 399.1M477.1 404.1L478.8 405.0L481.3 404.9M483.3 397.6L484.0 398.5L484.9 398.3M478.2 398.8L479.5 397.9L481.1 398.3" stroke-width="2.3"/>
<path d="M484.1 399.8L486.3 400.3L488.3 399.2" stroke-width="3.1"/>
<path d="M490.8 430.9L490.5 430.5L488.7 430.8M489.6 418.1L489.8 419.1L488.8 419.4M485.5 426.9L485.9 428.2L487.0 431.0M494.6 416.1L494.7 416.6L496.3 416.4M481.7 428.5L482.6 430.0L485.2 431.0M486.3 419.1L488.0 419.6L489.4 419.5M491.5 401.1L491.4 401.1L492.6 400.6M496.3 437.8L497.1 437.9L498.9 437.0M480.4 419.5L481.6 419.2L483.9 419.8M486.9 427.1L488.1 427.2L488.5 428.6M495.3 415.4L495.4 415.5L495.3 416.7M482.3 414.8L482.2 416.2L482.8 417.2M493.2 397.8L494.0 399.6L493.8 399.8M494.0 398.0L494.3 398.1L495.7 398.9M492.1 414.3L493.1 415.4L492.3 416.7M498.0 436.5L498.0 438.1L497.7 438.8M499.1 411.2L501.0 412.1L503.8 412.8M499.1 411.8L497.0 411.4L496.4 409.0M488.4 422.6L489.6 423.0L489.3 424.5M496.3 412.5L496.6 412.6L498.7 414.5M482.8 411.9L482.3 411.4L481.9 412.8" stroke-width="1.6"/>
<path d="M495.9 411.7L495.9 412.0L495.2 413.3M494.6 430.9L494.5 431.6L494.7 432.3M474.4 427.5L475.5 427.7L476.1 427.5M497.1 437.3L497.1 437.8L498.4 438.0M498.1 432.2L498.7 432.3L498.0 433.4M500.1 429.9L501.5 430.7L500.9 431.4M491.8 421.2L491.7 422.2L491.8 422.6M492.4 430.5L493.5 431.8L493.4 432.7M492.5 404.2L492.4 405.7L492.8 406.7M488.2 421.5L489.3 422.6L490.0 425.3M490.2 402.0L488.4 401.6L485.9 402.0M489.5 421.5L490.2 421.6L492.0 423.2M488.3 415.3L488.9 417.8L490.4 418.5M491.4 401.5L494.0 403.1L495.4 404.4M484.1 428.9L485.3 427.0L487.7 426.5M490.1 401.9L491.5 403.1L491.1 402.9M490.0 407.2L492.3 407.0L494.5 408.6M476.6 426.4L477.3 426.3L478.1 427.0M486.4 428.7L488.7 427.3L489.8 427.8M486.9 417.6L486.3 419.3L485.3 421.1M492.0 416.7L492.8 417.3L492.8 417.0M481.0 425.9L482.2 423.2L483.0 422.0M497.1 429.9L495.9 432.0L496.2 434.3M498.2 436.4L497.3 437.0L498.2 438.5M485.0 417.4L485.1 419.3L485.6 419.5M497.5 429.9L498.6 431.1L498.1 434.1M486.2 416.2L485.1 415.5L482.0 416.4M489.3 398.4L489.4 400.9L490.4 402.7M475.4 426.8L475.0 426.4L474.8 427.8M479.2 419.2L479.6 420.6L478.8 421.8M490.0 431.9L490.4 431.7L490.7 432.9M499.0 427.8L501.6 428.0L502.4 427.7M488.6 419.0L488.9 418.0L489.0 416.5M493.0 423.9L494.6 422.2L496.8 421.9M495.1 420.9L495.6 420.9L496.3 422.3M495.8 435.7L495.1 438.1L494.1 439.9M484.9 418.0L484.6 418.9L483.7 421.5M486.4 432.1L484.0 431.4L482.3 431.6M494.1 405.9L496.0 408.4L496.7 408.9M484.7 427.6L485.6 428.1L486.8 428.0M490.9 401.8L489.9 402.8L489.0 405.9M495.4 424.2L496.8 426.3L497.6 426.5M494.8 402.4L496.4 403.4L496.3 406.3M480.6 418.8L479.3 419.6L478.4 420.3M485.7 420.8L486.0 421.5L487.4 423.2" stroke-width="2.3"/>
<path d="M497.4 412.3L498.6 411.7L501.0 412.8M485.4 415.6L485.4 417.0L486.3 420.0M493.9 428.1L493.7 429.4L493.8 429.0M488.4 412.4L488.7 414.2L489.9 414.6M476.7 423.7L478.4 424.9L478.1 428.1M496.3 434.3L495.7 436.5L494.5 437.7M487.0 414.6L489.8 415.5L490.8 417.2M492.9 428.5L495.0 429.2L496.2 431.7M482.2 425.1L481.1 424.8L481.8 426.4M488.4 419.5L489.1 420.8L490.8 420.7M488.9 411.5L489.2 413.5L490.0 415.9M484.3 424.2L485.1 424.6L485.8 426.2M494.4 435.4L494.0 435.9L493.7 437.2M479.7 413.6L480.6 414.1L480.3 416.2M473.8 424.9L474.7 427.5L475.3 428.8M478.9 424.8L481.3 424.7L482.1 423.4M480.8 426.4L481.2 427.2L480.6 428.3M485.8 430.7L488.0 430.2L489.9 431.7M491.6 395.2L491.4 392.9L492.7 392.3M492.7 415.1L493.9 416.1L493.6 415.1M497.7 433.4L497.6 433.9L497.9 435.2M495.8 420.5L498.7 421.7L500.0 422.6M489.3 394.0L490.8 395.0L492.2 397.4M478.7 424.7L479.8 425.2L481.7 426.7M493.3 429.3L493.9 428.2L496.0 427.8M485.5 418.7L486.2 420.6L486.4 423.1M480.3 421.0L479.6 422.2L479.6 423.8M480.9 422.8L482.8 424.6L483.4 425.9M484.3 419.3L483.5 422.0L483.6 423.2" stroke-width="3.1"/>
<path d="M473.5 428.9L471.5 430.5L469.4 431.8M475.7 446.4L474.3 448.1L472.1 448.3M476.2 436.6L475.9 437.2L475.4 439.7M487.8 455.0L488.8 457.4L489.5 459.3M480.5 447.8L481.3 449.0L480.4 452.0M470.8 435.5L471.2 436.8L471.8 438.0M482.0 453.8L482.6 454.4L483.0 454.3" stroke-width="1.6"/>
<path d="M481.0 434.7L480.1 436.0L481.0 436.5M478.5 430.3L478.6 431.5L479.2 434.3M473.3 445.3L473.5 447.5L475.1 447.7M482.4 433.9L480.7 435.2L480.4 436.8M485.4 455.3L486.4 456.4L488.7 457.5M472.0 430.2L471.2 430.2L471.8 431.8M468.3 434.5L467.9 435.4L469.3 434.6M481.2 450.6L481.5 452.7L483.2 454.0M463.1 445.0L464.8 444.5L464.7 445.4M482.0 451.2L484.3 451.5L484.9 451.3M473.9 445.2L474.6 445.9L476.2 446.3M472.1 434.8L470.5 435.9L467.6 436.3M487.1 456.4L487.4 457.9L487.8 458.1M486.1 456.2L486.0 456.9L487.5 457.1M474.6 431.8L474.0 432.9L475.0 432.7M464.4 446.8L466.9 448.7L467.6 449.7M475.8 454.3L476.6 453.8L477.4 454.7M483.4 456.2L484.4 455.3L484.6 454.9M469.4 431.5L469.6 434.2L467.9 435.7M476.1 446.4L474.4 449.2L474.8 451.1M473.9 429.3L472.7 429.8L473.1 431.0M480.0 430.8L480.5 431.9L480.7 431.5M475.4 444.7L475.4 447.5L476.4 448.9M470.1 430.3L470.5 429.9L471.7 430.5M471.6 433.1L472.9 433.3L472.7 431.7M473.5 445.8L474.3 445.4L473.7 447.0M475.9 432.2L475.6 434.0L475.1 436.7M466.7 441.6L467.8 442.2L468.6 442.5M471.3 437.5L471.4 438.5L469.9 440.1M477.2 444.5L477.0 443.8L478.4 444.5M474.0 431.2L476.2 431.2L476.6 433.2M475.5 454.5L476.0 455.6L476.6 455.4M476.9 456.8L477.1 456.4L478.3 457.9M482.3 449.3L483.0 449.5L484.2 451.3M472.1 446.8L473.4 447.9L475.2 447.9M488.1 455.6L489.7 455.5L490.0 456.7M485.4 454.8L486.3 453.0L485.6 452.7M477.9 457.2L478.6 460.1L477.7 462.0" stroke-width="2.3"/>
<path d="M476.5 432.7L476.5 433.7L478.0 435.8M477.0 457.5L478.1 458.3L478.1 458.2M470.1 447.3L471.4 449.5L472.7 450.5M481.4 450.6L483.8 452.7L484.4 454.2M484.1 431.3L484.3 432.6L485.4 435.6M480.1 446.1L481.6 445.0L482.9 445.4M474.1 437.5L473.9 438.3L474.0 438.8M486.6 457.2L487.7 458.2L489.1 459.3M467.8 446.7L467.5 447.7L468.8 449.8M469.5 431.1L471.7 432.3L474.0 432.3M483.5 432.0L485.1 432.3L484.8 431.3M468.3 437.3L470.4 437.4L470.7 439.3M472.9 445.4L471.0 447.6L470.8 449.5M485.3 457.2L487.8 458.1L488.4 457.3M476.5 436.8L478.3 437.2L479.8 438.4M479.5 443.5L480.7 442.9L480.4 443.5" stroke-width="3.1"/>
<path d="M489.6 392.8L490.4 394.4L492.5 396.3L494.4 399.1L494.4 402.8L496.0 405.9L497.8 409.0L498.2 412.0L496.7 414.4L494.9 416.7L495.8 419.7L498.0 422.6L500.0 425.5L501.8 428.1L499.9 430.5L497.9 433.2L498.6 436.7" stroke-width="2.24"/>
<path d="M490.2 375.1L491.5 373.9L494.7 372.0L497.2 368.8L499.7 365.7L501.6 363.2L502.9 360.6" stroke-width="1.4"/>
<path d="M490.2 375.1L489.9 378.9L490.5 381.8" stroke-width="1.79"/>
<path d="M499.7 391.5L502.9 390.3L506.0 389.6L508.5 390.9L509.5 394.0L511.1 396.6L510.4 399.1L508.5 401.0L506.0 402.2L502.9 401.6L499.7 401.0L497.2 399.7L495.9 397.8L496.6 395.3L497.8 393.4Z" stroke-width="1.4"/>
<path d="M502.9 360.6L504.8 362.5L507.3 363.8L507.9 365.7L511.1 365.0L514.2 366.3L516.7 365.7L519.0 367.6" stroke-width="1.4"/>
<path d="M464.4 410.4L467.1 411.9L469.3 414.2L472.2 416.0L474.3 418.8" stroke-width="2.6"/>
<path d="M457.4 412.6l-0.9 -0.1M458.5 414.1l0.2 -0.9" stroke-width="1.7"/>
<path d="M460.0 415.5L462.7 416.8L462.9 419.9L465.1 421.9L462.7 423.2L461.0 421.5L461.5 418.5" stroke-width="3.0"/>
<path d="M446.1 390.3L448.5 389.2L450.9 390.0" stroke-width="2.24"/>
<path d="M459.6 393.8L460.5 393.9" stroke-width="2.4"/>
<path d="M462.3 389.6L463.1 389.8" stroke-width="2.4"/>
<path d="M473.5 408.5L473.7 409.3" stroke-width="2.4"/>
<path d="M442.3 447.0L444.2 447.1" stroke-width="2.6"/>
<path d="M448.6 446.0L450.2 445.4" stroke-width="2.6"/>
<path d="M454.9 444.7L456.3 444.4" stroke-width="2.4"/>
<path d="M459.6 440.7L460.1 441.2" stroke-width="2.46"/>
<path d="M465.4 453.9L466.1 454.3" stroke-width="2.46"/>
<path d="M468.4 452.7L469.2 453.1" stroke-width="2.46"/>
<path d="M472.0 456.1L473.3 456.8" stroke-width="2.6"/>
<path d="M452.8 429.6L453.1 430.1" stroke-width="2.46"/>
<path d="M510.4 443.2L511.7 447.0L513.6 449.5L515.5 453.3L517.4 457.1L519.0 459.6" stroke-width="1.4"/>
<path d="M510.4 443.2L512.3 442.6L514.2 441.3L516.7 442.0L519.0 440.7" stroke-width="1.4"/>
<path d="M514.8 442.0L516.7 445.8L518.0 448.3L519.0 448.9" stroke-width="1.4"/>
<path d="M480.9 451.4L481.6 452.9L483.3 454.8M478.3 454.1L479.0 454.6L480.4 454.5M480.5 452.9L479.9 452.7L480.0 454.0" stroke-width="1.6"/>
<path d="M482.7 461.3L482.2 462.7L481.2 462.9M482.6 459.9L481.7 461.7L482.5 464.2M475.6 455.4L475.0 456.4L473.4 458.1M479.6 452.6L480.0 453.9L480.3 456.1M478.6 454.0L477.4 454.9L478.2 454.9M487.3 456.7L488.7 455.4L490.4 455.3M484.6 457.7L486.9 459.5L487.3 460.3M482.1 460.4L481.8 460.6L482.2 461.2M485.4 458.9L483.7 460.7L483.9 463.1M485.3 457.8L486.5 458.6L486.4 459.0M478.3 457.1L479.1 458.4L479.4 458.0" stroke-width="2.3"/>
<path d="M478.4 455.6L479.2 457.6L480.1 459.5M481.7 459.4L480.5 460.2L481.3 462.8M480.1 460.6L479.7 459.8L480.8 461.0M486.6 458.5L486.4 458.8L488.1 459.7M480.0 450.9L482.6 451.3L483.9 453.7" stroke-width="3.1"/>
<path d="M460.6 467.0L462.9 467.5L464.5 466.7L467.6 466.4L467.2 469.0L463.9 469.6" stroke-width="2.6"/>
<path d="M460.6 473.5L462.7 473.9" stroke-width="2.6"/>
<path d="M470.7 464.5L474.1 464.2L475.3 466.1" stroke-width="2.8"/>
<path d="M472.0 480.3L472.7 480.6" stroke-width="2.6"/>
<path d="M465.7 486.3L466.8 486.3" stroke-width="2.24"/>
<path d="M469.2 487.2L470.1 487.4" stroke-width="2.24"/>
<path d="M486.2 485.4L486.1 486.1L486.1 487.6M479.2 523.5L479.0 523.9L480.8 525.6M489.4 474.4L490.3 474.3L492.4 474.0M477.4 522.6L475.2 523.2L474.7 524.4M483.8 510.4L482.4 512.6L482.4 512.9M484.1 470.5L485.9 470.8L487.1 470.8M476.7 524.4L478.6 525.0L478.9 526.4M489.3 482.1L490.7 485.2L490.5 486.3M484.7 508.7L483.7 510.4L482.7 511.1M490.2 475.6L491.7 478.6L492.0 479.9M489.9 501.7L487.9 502.2L487.4 503.9M490.4 477.5L490.6 478.9L491.4 480.5M492.9 486.2L494.8 487.7L495.3 488.5M492.1 504.7L491.9 505.4L493.1 505.2M484.0 467.0L483.6 468.4L483.0 469.2M486.0 464.8L488.9 464.0L490.0 462.9M489.4 485.4L491.5 486.4L493.9 487.3M487.5 468.3L485.3 470.3L485.0 471.9" stroke-width="1.6"/>
<path d="M490.7 505.2L492.2 506.3L492.3 507.5M491.9 503.5L491.9 505.9L492.0 506.5M484.8 463.7L483.8 464.9L483.7 466.2M477.6 519.5L478.4 518.1L479.1 517.1M498.2 493.1L498.8 493.3L497.7 494.9M490.9 476.6L491.4 478.0L491.9 478.9M487.1 468.8L488.4 470.0L491.2 469.4M487.9 466.2L487.4 467.6L488.0 467.4M484.0 467.6L483.3 468.3L484.4 470.0M495.0 492.8L494.9 492.2L494.0 493.7M490.4 482.9L490.5 483.0L491.3 482.8M496.4 492.4L495.9 493.4L496.9 495.9M498.9 492.5L497.0 492.8L496.9 494.7M489.6 485.3L490.4 486.6L490.4 487.6M496.2 484.2L495.1 484.1L496.0 485.6M480.1 526.1L480.7 524.8L482.3 524.3M487.8 465.9L488.7 466.5L491.2 468.8M488.9 473.9L488.5 471.8L487.5 470.5M496.8 492.3L495.0 492.6L493.6 493.8M485.1 498.2L483.2 499.0L481.3 499.6M484.8 506.7L486.3 506.0L486.6 507.0M493.4 484.1L493.5 485.2L495.2 486.9M477.5 524.0L478.6 525.5L479.5 525.6M488.7 495.8L488.7 497.0L486.9 497.3M484.3 483.2L482.1 485.5L480.7 485.8M489.0 493.2L489.5 492.9L489.8 494.3M478.8 520.4L477.4 521.4L476.9 522.6M492.2 490.0L492.4 491.4L492.2 491.4M496.8 492.2L496.2 493.2L497.3 495.9M485.8 466.1L484.2 469.2L484.5 470.8M477.4 519.6L479.0 521.0L478.7 520.8M490.3 480.0L491.0 481.5L490.3 484.3M490.4 484.6L491.3 485.8L491.2 486.4M493.0 487.9L492.7 491.0L493.5 492.4M496.0 491.6L496.8 490.5L499.5 491.4M484.8 509.8L484.9 509.8L484.3 511.3M484.7 468.3L484.3 468.9L484.4 469.5" stroke-width="2.3"/>
<path d="M487.0 469.5L488.1 469.3L490.0 470.2M486.0 469.5L487.6 469.6L488.0 471.0M500.0 486.4L500.6 489.3L500.9 490.1M495.6 488.9L497.3 490.6L497.7 493.3M493.1 478.7L493.3 478.9L492.1 479.3M479.5 527.0L481.8 526.7L484.1 525.7M491.3 502.4L491.5 501.8L492.6 502.8M490.5 492.2L490.1 493.7L489.2 494.3M487.6 475.5L487.9 475.6L488.9 474.3" stroke-width="3.1"/>
<path d="M484.6 462.6L485.8 466.3L485.0 470.2L487.2 473.2L489.1 475.2L490.6 478.0L492.0 480.3L489.9 481.3L486.8 480.7" stroke-width="2.24"/>
<path d="M489.0 494.1L486.2 496.3L484.6 497.6L483.2 500.4L485.0 504.1L484.8 507.3L483.1 510.0L481.2 511.8L480.9 514.7L482.1 516.7L480.3 518.8L478.5 520.7L477.4 522.9" stroke-width="2.24"/>
<path d="M483.5 489.5L485.2 489.4L486.4 489.9M483.4 487.5L485.5 485.8L486.7 485.2" stroke-width="1.6"/>
<path d="M480.5 489.6L482.3 490.0L484.1 489.2M483.0 490.2L483.6 491.0L485.3 493.7" stroke-width="2.3"/>
<path d="M482.8 491.2L481.9 491.6L482.8 490.1" stroke-width="3.1"/>
<path d="M467.5 497.9L468.3 499.8" stroke-width="2.6"/>
<path d="M474.0 500.8L473.8 503.0L475.0 503.5" stroke-width="1.6"/>
<path d="M476.2 499.4L477.2 500.0L477.4 501.2M475.3 503.3L476.4 502.2L477.0 502.2" stroke-width="2.3"/>
<path d="M462.5 514.9L465.2 513.6L467.1 514.4L464.8 516.1L463.3 517.1" stroke-width="3.2"/>
<path d="M468.8 518.7L472.1 518.1L474.6 519.2" stroke-width="2.6"/>
<path d="M468.2 522.5L470.7 523.1L473.4 522.6" stroke-width="2.4"/>
<path d="M458.1 523.1L459.1 523.2" stroke-width="2.4"/>
<path d="M458.1 526.3L459.7 526.5" stroke-width="2.4"/>
<path d="M468.8 514.1L469.5 514.1" stroke-width="2.4"/>
<path d="M474.5 516.2L475.8 516.7" stroke-width="2.4"/>
<path d="M459.4 529.4L461.5 532.1L461.7 530.7" stroke-width="3.0"/>
<path d="M492.1 480.3L494.7 478.4L497.2 476.5L499.7 474.6L501.0 472.1L502.9 470.8L505.4 471.4L507.9 473.3L510.4 474.6L513.6 474.0L516.7 473.3L519.0 472.7" stroke-width="1.4"/>
<path d="M514.2 450.0L515.5 453.2L517.4 456.3L516.7 460.1L517.4 463.9L519.0 466.4" stroke-width="1.4"/>
<path d="M484.6 513.7L486.5 515.6L489.0 516.8L492.1 516.2L495.3 515.6L497.8 513.1L498.4 509.9L501.0 508.6L503.5 509.9L506.0 511.8L507.9 511.2L509.8 510.5L511.7 512.4L512.9 514.9L514.8 516.8L517.4 516.8L519.0 516.2" stroke-width="1.4"/>
<path d="M493.4 525.7L495.9 523.1L498.4 521.9L501.0 522.5L503.5 521.6L506.0 522.5L507.9 524.4L509.2 526.3L507.3 528.2L505.4 529.4L502.9 530.7L499.7 530.7L496.6 529.4L494.4 528.2Z" stroke-width="1.4"/>
<path d="M479.9 544.0L481.9 545.9L482.8 547.6M485.1 547.3L485.1 548.9L485.9 550.9M478.2 534.3L479.5 535.4L480.9 537.4M466.4 545.6L466.1 545.6L467.4 546.2M476.5 545.6L475.7 547.4L475.1 549.1M477.2 547.1L476.7 547.6L475.5 549.5M476.6 527.8L478.2 529.8L479.7 530.7M469.7 549.5L469.8 551.9L471.2 554.3M476.9 531.1L478.0 531.6L478.0 532.5M462.8 549.0L462.9 549.9L463.8 552.3M476.6 531.9L477.9 530.6L480.0 531.1M483.2 532.5L484.2 533.6L483.7 536.3M480.1 540.3L479.6 540.7L477.9 542.5M473.1 534.4L472.6 536.2L471.6 539.1M461.4 547.0L463.2 550.2L463.2 551.6M475.1 546.1L473.2 548.2L472.5 549.6M467.2 533.4L467.5 534.0L467.7 534.1M470.3 535.8L471.1 536.4L472.9 536.7M474.7 543.9L475.1 545.4L477.0 546.0M472.5 544.5L473.1 545.4L475.6 546.3M467.5 528.2L467.8 531.4L467.4 532.9M476.3 529.3L476.7 530.3L478.9 530.8M478.2 527.0L478.6 527.8L478.3 529.1M474.9 543.6L473.6 544.3L472.9 544.9M472.0 543.4L471.0 544.8L470.9 545.7M480.8 532.7L480.0 533.5L480.3 534.8" stroke-width="1.6"/>
<path d="M472.2 539.2L472.8 540.6L474.2 541.2M482.0 547.1L481.5 548.3L482.1 548.2M477.1 537.0L475.1 538.7L472.8 539.5M476.7 535.4L479.0 535.9L479.4 536.4M480.3 545.1L479.8 547.7L479.3 549.7M478.2 535.7L478.7 536.4L479.0 536.5M477.3 533.9L478.5 533.6L478.5 533.5M473.5 528.5L475.2 530.7L475.8 531.7M468.8 549.4L469.9 550.7L470.3 550.6M481.7 548.0L480.7 549.4L481.6 549.4M473.0 533.4L474.0 534.4L475.1 537.2M477.0 529.4L477.4 529.2L476.1 530.4M461.6 545.4L462.9 546.0L463.1 547.5M477.3 540.8L475.4 541.0L473.2 541.2M479.0 538.6L478.6 539.3L478.2 540.4M466.3 549.9L466.2 552.0L467.6 553.5M482.4 545.2L483.4 545.9L484.4 546.1M470.3 534.5L469.9 535.4L470.8 536.9M467.5 530.0L469.3 530.8L470.1 531.0M481.2 530.8L482.8 532.0L483.7 534.6M475.2 541.3L475.0 542.8L476.0 545.4M462.9 548.1L463.9 548.4L466.2 550.6M472.2 544.3L473.1 545.4L473.3 545.4M477.6 528.4L475.7 529.6L475.2 530.7M468.1 536.7L468.3 536.4L467.0 537.7M463.9 545.3L464.9 544.9L464.7 545.6M473.9 535.5L473.2 536.3L471.2 538.4M474.0 528.9L476.5 530.4L478.2 531.0M472.2 545.0L470.1 546.6L467.9 547.0M463.0 546.9L463.3 547.4L461.8 547.7M461.8 545.3L460.4 546.0L460.9 548.2M477.8 530.5L477.8 532.1L478.5 532.0M477.2 530.0L478.7 529.7L478.4 528.6M469.7 538.9L469.2 538.0L468.5 536.9M468.1 545.6L467.8 546.2L468.5 547.5M480.1 538.9L479.4 540.6L480.7 542.9M472.6 533.8L474.5 535.1L475.7 537.7M480.0 544.7L479.5 545.1L481.0 546.6M466.7 546.3L465.7 547.0L463.4 549.4M471.5 531.0L471.0 532.2L470.8 532.1M470.5 542.6L469.0 544.5L467.0 546.0M470.1 546.1L471.0 547.9L471.5 549.4M474.9 543.8L474.9 545.5L476.3 546.8M479.4 541.9L479.2 543.1L478.2 543.1M467.2 549.9L468.0 551.0L468.9 553.5M478.0 542.6L479.3 542.0L478.9 542.5M484.8 547.2L484.3 548.4L482.5 549.0M483.5 528.5L482.4 530.4L482.3 532.6" stroke-width="2.3"/>
<path d="M475.6 528.4L475.0 530.3L474.5 531.2M465.7 527.5L466.2 528.6L467.5 529.9M467.8 527.2L469.1 527.0L469.1 528.7M475.0 535.3L476.1 535.2L478.1 536.0M477.5 546.9L477.2 548.5L475.5 549.5M471.5 535.4L474.7 536.0L476.3 536.2M473.3 526.9L474.6 527.2L475.3 526.6M476.9 535.5L477.2 536.7L476.6 536.7M470.2 538.5L470.0 538.0L471.3 539.0M480.8 539.7L480.8 540.3L479.8 541.4M479.8 548.2L481.2 547.5L482.6 548.7M482.9 530.7L483.4 532.5L483.4 535.0M463.6 544.9L464.6 546.4L465.1 547.2M473.3 528.9L474.2 530.2L474.2 530.2M468.1 549.4L466.4 551.6L466.2 553.2M472.5 529.7L472.3 529.9L472.6 531.3M474.3 527.9L471.8 529.1L471.2 531.7M470.6 533.9L471.9 535.2L474.2 535.7M465.6 529.8L462.9 530.5L462.1 533.2M471.5 546.1L471.3 548.2L472.4 548.4" stroke-width="3.1"/>
<path d="M466.7 571.8L467.2 572.8L469.0 573.5M467.3 567.4L469.4 566.9L472.0 567.0M476.0 548.4L476.4 550.2L476.6 551.6M482.2 545.9L482.6 546.4L481.9 547.7M477.6 547.0L479.3 548.7L479.2 548.9M472.5 554.3L474.3 555.7L476.8 556.0M475.0 548.8L475.7 550.5L475.1 553.3M471.5 562.2L471.8 563.0L473.2 565.0M459.4 547.6L461.4 548.5L462.0 548.5M481.4 545.2L480.7 544.2L481.5 541.8M460.5 549.0L461.3 549.0L461.2 549.9M464.2 544.8L464.8 547.6L464.4 549.7M479.9 548.3L479.5 549.6L479.9 551.4M461.9 571.3L461.4 573.4L462.2 575.7M476.8 544.4L476.5 546.0L476.9 545.9M468.0 573.7L467.7 574.7L467.2 574.7M466.8 570.6L465.8 572.7L466.2 573.2M479.8 548.5L480.4 548.4L481.9 548.9M470.1 561.6L469.2 562.9L466.8 564.5M473.6 565.3L475.1 566.2L476.7 565.3M480.3 562.6L479.8 563.3L478.8 564.4M464.1 553.7L464.8 553.2L465.2 553.2M466.0 552.6L465.5 552.6L466.1 553.8M460.9 547.7L462.4 548.6L465.0 550.0M482.7 558.1L485.6 556.8L486.6 557.0M481.7 562.1L480.7 562.9L479.8 565.5M469.1 565.2L469.1 565.2L470.7 567.1M482.3 559.2L482.1 560.4L480.1 560.6M462.8 557.8L463.1 559.7L463.7 562.7M477.4 546.0L476.2 545.6L476.5 546.2M478.0 567.1L476.4 568.6L474.9 568.5M468.9 549.8L470.5 550.5L470.2 551.1M473.1 566.9L474.6 568.7L474.4 568.6M485.3 568.5L484.4 570.1L484.8 571.1" stroke-width="1.6"/>
<path d="M476.2 547.5L475.7 547.3L473.4 547.7M482.0 558.3L483.0 558.1L484.3 559.0M465.8 552.3L465.7 552.7L465.7 554.7M460.1 556.3L461.4 557.3L462.3 558.2M476.0 545.9L479.1 544.9L480.5 545.3M464.6 544.9L465.3 544.6L466.7 545.1M464.6 564.0L464.0 565.6L464.6 566.4M474.3 559.3L473.3 559.7L470.3 560.3M483.0 556.5L485.8 556.9L487.8 555.9M472.4 556.0L471.9 555.4L472.0 556.8M469.1 564.6L469.6 564.0L468.3 565.1M468.7 545.3L467.5 546.5L465.9 547.8M481.3 557.7L483.7 558.3L484.1 557.2M467.4 564.4L468.2 564.9L469.5 564.2M467.7 569.5L470.0 570.5L470.9 572.4M460.9 543.8L461.7 545.1L460.9 546.9M478.0 551.8L478.9 553.1L478.0 555.6M468.3 547.6L468.9 549.8L469.7 551.6M483.7 542.0L482.5 541.8L481.2 541.0M471.2 556.4L474.0 557.3L475.3 558.0M480.3 545.2L478.4 545.9L477.6 546.0M482.6 559.8L484.3 558.3L486.5 557.0M467.9 548.4L469.8 549.7L471.6 550.6M471.2 551.9L472.3 553.8L473.4 556.2M481.6 544.2L481.5 545.6L480.9 545.3M479.8 546.3L481.7 548.2L483.2 549.5M484.2 553.5L482.8 555.1L481.0 555.4M464.9 576.1L466.5 578.3L467.0 580.3M476.3 545.3L477.3 544.6L479.7 545.8M470.5 573.4L469.8 572.9L469.5 574.0M475.6 566.2L475.7 567.5L475.2 569.3M473.1 564.3L472.9 564.0L474.4 564.0M466.0 553.8L463.3 553.9L462.0 554.5M468.7 563.6L471.0 563.6L472.3 561.9M463.0 568.0L463.2 570.6L462.4 572.2M468.8 574.7L467.1 576.0L466.3 579.0M473.8 549.1L473.8 550.8L473.8 553.7M473.3 555.1L472.2 555.7L472.8 556.1M472.8 556.9L471.7 556.8L469.4 557.5M476.5 554.5L479.2 554.2L480.3 555.2M468.5 543.2L469.3 545.2L469.4 547.3M469.5 574.7L470.3 576.6L469.7 577.2M472.4 542.8L472.4 545.6L473.9 547.0M482.1 545.7L482.3 547.4L483.5 549.0M466.3 562.6L466.7 563.6L468.2 564.1M483.4 558.2L483.4 560.0L482.7 561.1M469.0 558.3L467.5 559.6L466.0 562.3M467.3 548.6L466.7 549.2L465.7 549.3M475.9 566.4L475.4 566.9L474.8 568.1M470.7 570.7L471.7 570.3L471.7 570.6M468.9 573.3L470.1 573.8L471.9 573.2M478.0 547.2L480.0 547.2L481.0 548.7M483.6 548.0L484.2 550.6L485.1 551.4M469.3 559.2L471.5 559.7L472.8 560.8M478.5 549.4L478.9 550.0L479.5 551.8M469.0 543.0L470.8 541.4L473.5 541.6M478.7 551.5L480.4 551.2L480.4 552.3M479.2 562.4L478.9 564.2L477.9 567.0M468.1 543.2L470.2 543.3L470.2 543.5M472.1 542.0L473.0 543.2L472.7 544.2M469.6 568.7L472.3 568.6L474.2 570.3M479.9 549.9L479.7 551.7L480.4 553.4M479.8 541.5L480.5 541.9L480.2 543.6M475.7 556.6L474.5 557.2L472.5 559.0M459.5 557.0L457.3 557.7L456.2 559.6M468.1 570.2L470.0 569.8L471.1 570.6M474.9 557.2L474.9 557.7L473.8 558.4M467.0 551.2L465.4 553.0L465.7 553.5" stroke-width="2.3"/>
<path d="M465.4 546.2L466.1 547.0L466.6 548.5M467.6 566.2L467.5 565.4L466.8 566.6M470.8 546.3L470.9 548.0L470.1 547.9M465.2 563.3L466.7 564.0L468.9 563.7M471.3 549.3L472.7 549.9L473.1 549.8M477.4 562.4L477.5 564.3L478.2 567.2M465.3 575.0L466.4 575.9L468.3 577.3M475.9 554.7L476.6 554.4L476.4 555.5M480.3 545.3L481.1 544.7L480.9 544.2M456.8 553.9L455.8 553.5L455.9 555.1M466.9 573.3L468.0 574.6L467.3 574.0M473.1 545.2L472.7 546.2L474.2 547.1M464.6 567.9L464.0 568.7L464.8 570.3M472.8 553.9L474.0 553.4L473.5 554.6M481.5 556.1L479.8 558.2L478.0 558.7M487.4 577.6L489.1 577.0L491.1 578.2M461.3 553.4L461.5 555.6L463.1 556.2M476.0 567.1L475.5 567.4L476.6 568.9M467.4 556.8L467.6 559.1L469.4 560.0M474.3 547.8L475.2 549.5L477.1 550.3M466.2 568.1L466.2 570.3L466.2 572.7M470.5 543.4L472.3 544.8L473.3 544.5M462.3 551.8L462.7 552.6L461.5 554.0M466.7 573.1L467.0 573.6L466.4 575.7M477.8 555.9L476.2 555.4L474.1 555.8M467.0 548.8L467.7 548.9L468.7 550.4M470.3 547.3L470.7 548.0L470.6 548.3M468.5 559.0L467.6 560.1L467.4 563.1M467.3 546.2L465.2 547.3L463.1 547.9M469.2 576.2L470.4 576.3L470.3 577.5M474.8 551.2L474.4 552.3L473.9 552.4M478.8 563.4L479.4 564.4L481.3 566.1M483.1 556.8L482.9 557.4L483.1 559.1M475.5 561.2L475.8 561.6L474.3 563.1M462.0 569.7L459.6 571.1L458.8 571.0M466.2 548.2L467.0 547.6L468.0 547.8M469.1 549.1L467.8 549.1L467.6 551.1M483.3 555.2L483.4 556.2L484.0 557.1M469.8 548.8L469.0 549.3L468.7 549.6M466.3 550.4L465.0 550.6L462.5 552.6" stroke-width="3.1"/>
<path d="M426.6 550.1L427.4 551.2L427.8 552.7" stroke-width="3.4"/>
<path d="M434.8 551.3L437.0 549.2L438.1 548.0L440.4 550.1L440.0 553.6L436.6 555.3L435.8 552.3L438.5 551.2" stroke-width="4.0"/>
<path d="M431.6 564.0L431.9 566.0L433.0 567.7" stroke-width="3.0"/>
<path d="M439.2 577.8L441.8 578.0" stroke-width="2.4"/>
<path d="M422.8 582.9L423.7 584.5L425.4 586.5" stroke-width="3.2"/>
<path d="M449.6 560.2L450.6 560.4" stroke-width="2.46"/>
<path d="M453.4 545.7L454.2 545.8" stroke-width="2.46"/>
<path d="M456.6 576.9L457.7 577.9" stroke-width="2.6"/>
<path d="M461.0 580.4L461.5 581.1" stroke-width="2.4"/>
<path d="M487.4 574.7l0.5 -0.4M509.9 565.1l-0.1 -1.1M513.5 552.2l0.3 -1.0" stroke-width="1.4"/>
<path d="M490.9 571.5L492.1 570.4L493.3 567.6L494.5 565.2L496.0 564.0L497.7 560.0L499.0 557.8L498.8 555.4L500.3 559.0L499.7 561.8L499.8 564.0L502.2 567.3L505.4 565.2L507.4 561.6L508.9 557.5L510.3 553.9L513.3 551.6L516.0 549.4L518.8 546.5" stroke-width="3.4"/>
<path d="M494.7 570.3L498.6 569.3L501.9 570.5L506.3 568.7L509.6 569.6L513.8 568.2L517.1 566.8L519.3 565.5" stroke-width="3.4"/>
<path d="M500.3 558.4l0.8 1.1M520.7 559.8l-0.3 1.0" stroke-width="2.0"/>
<path d="M495.9 565.2L497.7 567.4L501.3 565.7L503.7 564.3L505.8 562.6L508.1 564.6L511.4 563.3L513.5 561.2L515.9 560.4L518.4 559.2" stroke-width="3.2"/>
<path d="M512.3 553.9L514.7 555.3L517.2 553.6L519.1 552.9" stroke-width="3.0"/>
<path d="M499.7 576.6L501.5 578.1L505.0 577.5L506.0 579.3L503.6 580.6" stroke-width="3.2"/>
<path d="M509.8 575.3L512.1 576.5" stroke-width="2.4"/>
<path d="M516.1 575.9L518.8 576.4" stroke-width="2.4"/>
<path d="M489.6 577.8L491.2 579.7L493.4 580.6" stroke-width="3.0"/>
<path d="M476.4 588.5L479.3 587.0L481.8 589.8L479.9 592.8L478.5 590.8" stroke-width="3.4"/>
<path d="M492.5 592.7L493.3 592.8" stroke-width="2.4"/>
<path d="M505.8 589.2L506.7 589.3" stroke-width="2.6"/>
<path d="M480.3 603.3L481.0 603.4" stroke-width="2.24"/>
<path d="M605.4 411.7L603.5 414.2L601.6 416.7L601.6 419.9L604.8 420.5L609.2 420.3" stroke-width="1.4"/>
<path d="M519.0 368.2L522.8 367.6L524.0 371.3L525.9 373.2L529.1 374.5L530.3 377.7L528.5 380.8L526.8 383.3L527.2 387.1L526.6 389.6L528.5 392.2L531.6 393.4L535.4 394.7L539.2 396.6L538.5 400.4L538.9 404.1L538.5 408.5L537.9 413.0L536.0 416.1L534.1 418.6L532.2 419.9L531.0 423.1L529.1 425.6L525.9 427.5L522.8 428.7L519.0 430.6" stroke-width="1.4"/>
<path d="M537.9 413.0L539.2 417.4L542.3 418.0L544.9 416.7L544.2 413.6L546.1 412.3L548.6 413.0L549.3 415.5L551.8 414.9L554.3 413.0L556.8 412.3L559.4 413.6L561.2 414.2L560.0 416.7L562.5 417.4L565.0 419.3L568.2 418.6L571.3 419.3L573.9 420.5L577.0 420.3L580.2 420.5L581.4 418.3L583.9 419.0L587.1 419.3L589.6 418.6L592.8 419.3L595.9 418.3L598.4 419.9L601.6 420.5" stroke-width="1.4"/>
<path d="M581.4 420.5L579.5 422.4L576.4 423.7L573.2 424.3L570.7 425.6L568.8 428.1L566.9 430.6L567.5 433.1L566.3 435.4L563.8 435.9L561.2 434.4L559.4 432.9L557.5 433.4L556.8 435.4L554.3 435.7L552.4 436.3L550.5 437.2L549.3 439.4L547.4 441.0L545.5 441.3L544.2 443.2L542.3 444.7L541.1 447.0L539.8 447.6L541.7 449.8L543.6 451.8L543.0 454.6L542.3 457.7L543.0 460.0" stroke-width="1.4"/>
<path d="M519.0 434.4L520.9 436.9L522.2 439.4L520.3 440.7L519.0 441.3" stroke-width="1.4"/>
<path d="M519.0 448.3L520.9 450.2L520.3 453.3L521.5 455.8L524.0 457.1L525.9 457.7L527.8 459.6" stroke-width="1.4"/>
<path d="M612.3 450.0L610.7 454.0L609.3 457.7L610.2 459.7L609.8 462.5L610.8 466.7L612.3 470.4L610.7 472.9L613.5 474.4L615.8 472.0L618.3 469.9L616.4 472.0L617.5 474.9L617.6 477.7L617.0 480.3L616.3 483.4L616.2 485.4L616.5 486.5L615.2 490.1L614.5 493.6L614.7 495.4L613.4 498.9L612.0 500.9L613.0 504.5L612.2 507.8L609.7 510.8L608.4 514.4L607.2 518.3L606.1 520.5L603.8 521.9L602.4 523.6L600.3 525.8" stroke-width="2.46"/>
<path d="M610.0 472.4L611.5 473.6L613.3 474.3" stroke-width="3.2"/>
<path d="M611.7 499.8L612.3 502.7L611.9 506.0" stroke-width="3.0"/>
<path d="M595.9 500.4L597.2 496.7L599.1 494.1L602.2 492.9L606.0 493.5L609.2 495.4L612.9 496.0" stroke-width="1.4"/>
<path d="M595.9 500.4L598.4 503.0L601.6 504.9L604.8 506.7L607.9 508.0L609.8 508.3" stroke-width="1.4"/>
<path d="M609.8 508.3L606.0 509.9L602.2 511.8L599.7 514.3L596.6 516.8L594.0 519.4L591.5 521.9L589.6 523.8" stroke-width="1.4"/>
<path d="M568.8 484.7L571.3 483.4L573.9 480.9L576.4 479.3L579.5 478.4L582.1 479.3L583.3 482.2L583.9 485.3L582.7 487.8L581.4 491.0L579.5 493.5L577.0 494.1L575.7 496.0L576.4 498.5L578.3 500.4" stroke-width="1.4"/>
<path d="M570.5 499.8L569.4 497.9L570.5 495.4L568.8 494.4L570.7 492.2L572.0 489.7L570.1 487.8L568.8 486.6L568.8 484.7" stroke-width="1.4"/>
<path d="M560.6 497.3L563.1 498.5L566.9 497.9L570.1 499.8L572.6 499.4L575.7 498.5L578.3 500.4L581.4 501.5L585.2 501.7L588.4 499.8L590.9 498.5L594.0 498.5L595.9 500.4" stroke-width="1.4"/>
<path d="M543.6 450.0L543.0 453.8L543.6 458.2L542.3 462.0L541.7 463.9L544.9 465.1L548.0 465.8L550.5 466.4L551.2 468.9L549.3 470.2L548.6 473.3L547.4 475.9L545.5 477.7L542.3 478.0L537.9 477.7L534.1 477.1L532.2 478.4L529.7 479.6L526.6 479.0L523.4 477.1L521.5 474.6L519.0 472.7" stroke-width="1.4"/>
<path d="M519.0 467.7L521.5 465.8L524.0 468.9L526.6 468.3L529.1 467.7L531.0 469.5L531.6 472.7L532.9 475.2L534.1 477.1" stroke-width="1.4"/>
<path d="M519.0 456.9L520.9 455.0L524.0 455.7L526.6 456.9L528.5 458.8L527.8 462.6L526.6 466.4L525.9 468.3" stroke-width="1.4"/>
<path d="M545.5 477.7L546.1 481.5L546.7 485.3L549.3 486.6L552.4 487.2L555.6 488.5L557.5 491.0L559.4 493.5L560.6 497.3" stroke-width="1.4"/>
<path d="M546.7 485.3L543.6 487.2L540.4 489.1L537.9 492.2L537.3 496.7L536.0 500.4L534.8 504.2L536.0 508.0L537.9 511.8L536.7 514.3L535.4 516.8L536.0 520.6L537.9 524.4L539.8 527.6L541.7 530.1" stroke-width="1.4"/>
<path d="M519.0 516.8L522.2 516.2L525.3 515.6L528.5 514.9L531.6 515.6L534.1 516.8L535.4 517.5" stroke-width="1.4"/>
<path d="M561.6 555.3L562.6 555.8" stroke-width="2.6"/>
<path d="M568.6 554.7L569.4 554.8" stroke-width="2.6"/>
<path d="M573.0 555.8L573.9 556.4" stroke-width="2.6"/>
<path d="M585.6 555.8L586.4 556.4" stroke-width="2.6"/>
<path d="M549.0 563.9L549.7 564.2" stroke-width="2.4"/>
<path d="M525.1 571.7L525.7 571.9" stroke-width="2.6"/>
<path d="M528.8 574.2L529.9 574.6" stroke-width="2.6"/>
<path d="M532.6 573.0L533.4 573.2" stroke-width="2.4"/>
<path d="M524.4 578.0L525.0 578.0" stroke-width="2.6"/>
<path d="M532.0 581.2L532.5 581.6" stroke-width="2.46"/>
<path d="M522.2 584.9L523.8 585.3L525.0 584.5" stroke-width="3.2"/>
<path d="M526.6 584.1L527.7 584.6" stroke-width="2.6"/>
<path d="M535.6 584.3L536.9 584.9" stroke-width="2.6"/>
<path d="M519.6 570.4L520.5 572.9L519.7 575.7" stroke-width="3.0"/>
<path d="M492.2 564.8L495.0 564.0L496.1 563.7M567.8 538.7L570.3 539.1L571.0 538.3M516.1 548.6L516.6 548.1L517.9 547.3M570.3 535.6L570.2 535.8L571.6 535.3M513.0 571.8L512.8 573.6L514.6 574.9M487.9 581.1L490.7 579.2L491.7 578.9M520.9 551.3L520.3 551.9L521.4 552.2M537.6 555.6L538.1 556.1L539.1 555.0M532.5 541.2L533.6 541.2L535.4 540.9M512.1 566.6L510.6 564.5L510.8 562.6M498.4 575.6L499.0 574.4L501.5 574.4M541.6 555.9L540.2 553.1L540.4 551.9M538.1 541.7L539.2 540.2L542.0 540.6M500.7 567.3L500.6 566.5L501.9 567.2M528.9 550.9L530.2 550.0L530.7 550.3M483.0 572.4L484.0 571.9L483.4 571.2M520.6 570.1L520.2 568.9L520.6 568.8M566.2 549.1L566.6 548.0L567.4 547.3M496.3 560.4L496.7 561.2L497.2 560.9M512.1 560.5L513.1 561.7L515.7 561.3M573.8 537.7L576.9 539.1L578.6 538.8M505.0 561.8L505.0 560.4L504.7 560.1M554.4 530.2L555.2 530.2L555.9 530.9M488.4 566.0L488.6 565.2L489.5 562.4M544.9 561.5L546.3 559.1L546.7 558.3M515.1 556.7L515.9 554.9L516.8 554.3M553.8 537.3L555.5 537.1L557.5 537.1M539.7 534.7L540.5 532.3L541.9 530.5M514.1 566.4L515.4 566.3L515.7 566.6M521.0 566.1L520.2 565.9L520.4 564.2M537.2 557.0L539.9 557.9L540.9 558.9M550.4 545.6L551.6 544.9L552.5 545.5M487.0 580.8L487.8 581.3L488.1 579.9M526.0 541.7L527.2 540.8L527.6 541.8M481.2 567.5L482.7 568.2L484.4 568.6M545.9 536.5L545.8 536.5L546.9 535.0M545.0 552.8L545.4 551.8L545.2 550.3M578.0 532.9L578.5 530.1L577.8 528.7M568.5 550.1L568.5 548.5L567.5 547.2M530.2 551.2L530.4 552.1L531.9 551.5M577.1 542.8L577.3 542.6L579.1 544.1M532.0 547.1L534.8 544.9L535.7 544.1M571.8 528.3L570.9 526.7L570.4 523.8M566.6 550.6L568.9 550.6L569.2 549.7M496.8 571.8L497.5 569.1L498.0 568.2M566.2 536.3L566.2 534.6L568.3 534.4M498.6 557.7L499.1 556.8L501.5 555.7M544.5 558.8L545.2 557.7L547.7 558.0M541.7 559.9L542.9 558.9L544.2 559.2M502.5 562.2L505.0 560.1L506.3 559.0M564.8 531.7L563.4 530.8L563.8 530.6M494.2 570.3L494.4 570.5L495.6 570.1M571.2 545.8L571.6 543.4L573.0 542.5" stroke-width="1.6"/>
<path d="M509.6 560.0L509.9 557.2L510.3 555.4M528.1 555.5L530.3 555.4L531.4 557.1M487.1 579.0L488.2 579.1L488.5 579.3M538.2 545.4L539.6 544.7L542.0 543.2M507.7 572.5L507.7 574.5L508.8 575.3M486.9 560.3L488.1 559.8L488.3 558.6M524.1 552.1L525.7 551.6L525.3 552.6M570.9 533.0L572.5 533.7L572.8 533.6M553.2 540.5L554.8 540.4L555.4 539.6M525.4 552.1L522.9 552.5L521.0 551.7M548.6 551.1L550.7 552.0L550.9 551.9M567.0 542.8L568.1 542.8L568.5 542.5M502.2 561.8L503.0 559.7L503.2 559.2M523.7 554.8L523.9 555.3L525.7 555.1M527.7 558.1L529.2 558.7L531.8 558.4M497.6 563.8L499.6 564.2L501.9 562.8M556.3 542.4L555.8 541.5L555.8 540.4M494.4 561.9L494.6 562.5L495.4 561.5M530.0 561.1L530.9 560.1L531.4 559.9M509.1 570.9L510.3 570.1L511.2 570.8M572.3 532.2L573.7 530.5L573.4 529.8M492.3 571.4L493.9 570.3L494.1 569.5M519.8 561.6L519.8 562.5L520.5 562.2M540.7 546.0L543.7 547.3L545.4 547.6M522.9 542.7L523.9 541.2L526.0 540.4M514.1 560.6L515.2 559.8L515.0 558.8M504.7 562.7L505.3 560.2L507.0 559.0M570.1 536.3L571.9 536.1L574.6 535.8M492.0 566.2L493.7 565.5L494.1 564.5M493.7 572.5L495.5 570.4L496.5 569.3M542.0 542.0L542.3 540.6L541.1 539.4M572.0 538.6L571.7 537.3L572.9 535.2M560.6 547.5L561.4 547.0L563.8 547.0M506.5 564.2L508.5 562.1L508.8 561.9M533.0 553.3L532.2 550.7L530.9 549.9M531.2 564.5L532.2 562.4L532.3 561.4M565.8 531.3L568.0 530.0L568.4 529.8M572.0 538.0L572.7 536.6L571.8 534.4M556.6 531.4L555.8 530.6L556.1 530.2M503.2 576.7L503.6 579.6L503.8 581.4M508.1 574.3L507.6 573.9L509.1 571.9M569.3 545.4L568.5 542.5L569.6 541.0M554.8 536.0L557.1 536.4L558.9 536.5M494.0 571.7L495.3 569.7L497.7 568.8M558.4 547.7L561.8 547.2L563.2 546.7M495.3 575.5L494.4 575.7L494.4 574.9M501.2 567.8L502.7 566.3L502.5 563.8M491.9 567.1L491.4 568.3L491.5 569.1M499.2 556.5L500.3 556.1L500.7 555.7M531.5 552.6L533.3 550.4L533.6 548.8M559.8 547.8L561.4 547.8L562.4 549.3M482.9 571.3L482.8 568.8L482.9 567.1M505.8 568.1L505.5 568.0L506.8 566.1M480.0 571.7L480.8 570.4L481.8 570.4M567.9 535.7L569.3 536.2L569.2 535.1M490.3 580.1L489.8 580.1L490.3 579.1M508.4 555.3L509.3 553.0L510.2 552.0M568.7 536.2L567.5 534.8L568.2 535.2M518.1 547.6L519.3 548.5L518.9 547.5M516.1 568.5L516.4 567.5L517.8 567.7M503.8 561.1L504.6 560.1L506.0 559.8M549.3 550.6L551.0 550.8L552.9 552.1M484.3 563.0L484.7 562.0L484.8 562.0M545.4 536.8L546.9 535.6L546.4 535.4M577.0 536.4L576.6 536.1L577.2 534.8M528.4 553.5L529.9 553.5L531.0 551.9M550.8 543.0L552.3 541.5L554.3 540.6M534.2 535.5L536.2 536.7L537.0 538.4M483.6 569.0L484.9 567.4L485.4 564.4M580.0 543.0L581.4 543.7L582.1 542.6M520.2 561.6L522.0 561.6L522.6 559.7M483.0 574.3L483.8 571.3L483.3 569.6M527.8 554.0L527.8 551.5L528.4 550.3M527.0 554.5L527.3 552.3L528.9 550.0M564.2 551.2L563.0 550.2L563.4 550.2M499.4 570.3L501.1 569.7L503.8 569.5M520.4 572.8L521.4 572.2L522.4 571.5M484.9 576.7L486.2 573.8L486.0 572.7M538.5 547.6L539.7 548.0L541.7 548.5M569.2 539.0L571.3 538.4L571.6 536.5M482.1 572.7L483.4 571.0L484.4 568.9M519.1 567.3L520.5 567.4L520.3 566.8M538.0 548.6L539.7 547.6L539.6 547.9M497.0 573.1L499.1 572.4L499.6 573.0M526.6 547.4L526.8 547.0L528.9 548.2M552.8 531.7L554.3 530.7L557.4 530.8M544.6 544.4L543.7 543.5L544.7 541.6M511.6 575.1L513.2 573.8L514.6 571.5M514.5 560.3L516.2 559.9L517.5 558.8M577.0 533.0L577.4 534.0L578.6 533.1M517.0 565.3L516.1 564.1L516.5 562.8M568.2 532.4L570.0 532.0L572.7 530.9M527.1 547.5L526.4 547.3L527.7 546.9M493.8 564.3L495.7 564.3L496.5 562.6M527.8 547.3L527.6 547.2L528.5 546.7M553.8 540.0L555.4 541.2L557.2 542.1M570.7 536.7L571.0 533.8L569.7 532.0M566.1 534.1L567.1 532.1L566.8 529.2M543.1 556.5L544.5 555.4L545.2 556.3M489.8 581.1L488.1 579.2L487.1 578.7M494.3 561.0L494.5 559.7L494.1 559.2M535.6 539.7L537.4 538.9L539.0 538.9M579.4 522.6L581.3 521.2L583.1 519.8M486.4 560.7L485.7 561.5L486.2 562.4M534.2 544.4L536.3 545.4L537.1 544.6M522.2 559.1L521.7 556.9L522.9 556.0M506.1 565.8L508.6 565.2L510.3 565.3M562.3 532.2L564.2 532.5L564.7 532.1M579.5 521.4L580.7 522.2L582.0 521.6M544.9 534.7L544.5 535.5L545.6 536.1M500.0 569.6L500.1 569.5L501.3 568.9M557.4 544.2L558.9 543.1L559.6 541.0M538.4 543.4L540.6 543.3L541.2 542.1M571.1 527.8L568.6 525.9L567.6 525.7M499.7 555.3L499.3 552.2L500.3 550.7M530.5 542.6L532.0 540.1L533.5 539.5M573.4 538.1L574.4 538.1L575.2 536.5M577.6 548.6L577.2 546.0L575.6 544.7M564.1 546.2L565.7 545.2L566.7 545.3M549.4 535.9L548.3 535.0L547.8 533.6M563.8 531.1L565.4 530.1L566.6 529.6M503.8 561.4L505.0 562.5L507.1 562.6M498.4 579.1L499.7 578.3L499.4 579.2M555.4 545.6L554.6 544.4L553.2 542.6" stroke-width="2.3"/>
<path d="M507.7 564.0L509.0 562.1L511.7 561.9M518.9 552.8L518.5 551.7L519.0 551.0M530.8 539.4L529.9 537.1L529.1 534.8M504.4 566.1L505.7 565.9L507.9 566.9M484.5 568.6L485.4 567.1L484.7 567.6M542.5 540.7L543.2 541.0L543.4 539.4M556.4 545.5L557.7 543.6L558.7 541.7M503.1 557.5L504.3 556.4L504.7 555.6M540.2 540.9L540.6 539.5L540.6 538.4M572.7 540.7L572.9 538.9L571.4 537.5M558.4 533.3L559.3 532.5L561.8 531.6M480.2 569.8L481.6 569.6L481.0 568.9M578.9 546.8L579.0 545.2L581.0 544.3M574.4 536.5L575.5 536.4L576.2 535.6M560.2 534.0L561.1 532.3L563.1 531.1M554.5 534.9L556.0 533.7L558.1 532.1M523.1 545.2L522.2 544.0L523.1 544.0M551.9 540.6L551.4 540.3L552.0 538.2M535.8 554.7L537.8 555.0L538.5 556.3M544.4 544.9L547.3 544.3L548.6 543.7M574.7 531.8L575.8 532.1L576.7 531.2M524.1 562.1L525.4 561.0L526.8 561.8M564.3 540.0L566.2 540.9L567.1 541.3M499.9 567.2L502.0 567.6L503.8 567.6M532.4 541.0L532.9 541.0L534.9 540.6M497.1 569.1L497.1 568.2L498.0 569.0M524.3 562.8L523.4 561.4L522.5 559.6M541.4 546.3L541.9 545.9L542.8 545.2M518.7 564.6L520.0 565.8L519.9 565.2M483.4 568.9L484.1 569.0L484.5 567.8M556.4 540.4L559.6 540.9L561.1 541.0M538.1 537.9L539.0 535.1L539.7 533.7M520.4 553.0L520.8 552.7L521.0 550.5M533.7 559.3L534.7 558.2L535.1 558.9M561.7 542.4L563.1 541.0L563.7 538.3M538.4 538.7L540.1 539.0L539.8 538.0M525.7 555.3L527.9 553.8L528.5 553.1M560.4 535.1L562.3 532.5L563.1 530.9M529.4 552.5L529.0 552.4L530.3 550.6M553.6 535.5L554.9 535.8L554.5 535.9M489.1 576.2L490.3 576.4L489.6 575.5M517.3 554.3L519.3 552.4L519.8 552.1M569.9 549.9L570.3 549.2L571.3 549.6M489.5 574.3L488.1 574.7L486.9 574.1M567.0 539.7L568.8 538.9L570.7 538.4M544.7 540.1L546.6 538.7L546.7 538.3M558.7 542.9L559.5 542.4L558.6 541.7M497.6 576.1L498.2 575.4L500.7 576.1M499.9 574.2L499.9 573.2L501.1 572.0M551.6 546.3L552.3 547.2L553.1 546.4M551.4 541.3L552.0 539.2L553.6 537.2M512.7 574.1L515.1 575.6L516.3 576.7M573.3 546.1L572.5 545.2L573.0 544.3M547.7 544.5L549.1 544.8L550.1 544.2M543.5 538.2L545.7 537.6L546.9 537.6M539.6 543.1L539.8 542.0L540.3 542.3M537.8 548.5L538.9 547.9L538.5 547.0M502.4 569.7L503.8 570.4L505.9 569.4M553.4 540.1L554.2 539.8L555.6 539.1M565.0 547.5L565.3 546.8L566.8 547.9M541.3 551.8L540.3 549.0L541.3 547.2M482.6 567.2L484.4 567.1L485.5 565.3" stroke-width="3.1"/>
<path d="M524.1 572.5L524.8 573.3" stroke-width="2.4"/>
<path d="M528.9 574.4L529.8 574.7" stroke-width="2.4"/>
<path d="M532.7 572.9L533.7 573.1" stroke-width="2.4"/>
<path d="M524.5 577.6L525.5 578.0" stroke-width="2.4"/>
<path d="M532.1 580.7L532.5 580.9" stroke-width="2.4"/>
<path d="M535.9 583.9L536.7 584.4" stroke-width="2.6"/>
<path d="M522.2 585.1L524.5 586.3L523.6 585.0" stroke-width="3.6"/>
<path d="M505.6 589.3L506.2 589.8" stroke-width="2.6"/>
<path d="M492.4 592.7L493.4 593.1" stroke-width="2.4"/>
<path d="M549.1 563.7L550.0 564.2" stroke-width="2.6"/>
<path d="M561.7 555.0L562.5 555.3" stroke-width="2.6"/>
<path d="M568.7 554.7L569.6 555.4" stroke-width="2.4"/>
<path d="M573.1 555.5L574.0 555.6" stroke-width="2.4"/>
<path d="M481.0 588.9L481.2 590.4" stroke-width="3.0"/>
<path d="M553.8 525.9L554.4 528.7" stroke-width="3.0"/>
<path d="M497.7 553.6L498.7 557.0" stroke-width="3.2"/>
<path d="M583.2 540.1L584.2 540.5L584.8 539.0M567.1 532.3L569.8 532.2L570.8 532.2M579.7 521.0L581.8 519.4L581.9 519.7M582.1 531.5L583.2 532.1L586.2 533.4M576.2 526.2L576.6 527.2L576.6 527.0M578.2 539.2L578.9 540.0L579.6 540.0M586.4 525.5L587.6 524.2L589.6 523.5M569.6 534.3L569.4 534.9L570.4 534.7M569.4 533.9L570.0 535.1L570.7 536.0M565.7 538.3L564.0 537.3L561.1 537.6M568.4 537.2L568.3 535.9L569.7 536.0M582.2 531.1L581.6 529.3L581.6 527.7M583.1 526.3L584.7 525.3L587.3 526.1M575.1 538.7L576.2 539.7L578.8 540.4M580.2 526.6L582.1 525.6L583.4 525.1M574.1 530.8L574.9 529.6L577.2 528.6M576.8 527.2L578.1 529.4L577.8 531.8M567.3 536.7L568.6 535.7L569.0 535.7M572.2 531.5L573.6 531.1L573.3 530.9M584.2 538.5L583.0 537.8L582.0 539.0M569.4 536.4L569.7 534.9L571.9 533.3M569.6 536.3L571.3 536.3L571.4 535.7" stroke-width="1.6"/>
<path d="M580.2 546.5L581.0 546.2L581.8 544.6M582.0 537.0L582.9 535.8L582.6 536.2M579.2 526.1L580.7 527.7L581.0 529.5M580.3 528.9L583.0 528.6L584.1 527.2M572.2 536.3L573.9 536.8L574.7 536.5M563.8 534.2L565.0 535.0L566.8 535.7M579.2 533.8L581.5 533.9L583.9 534.1M578.3 542.9L578.8 544.3L578.6 544.0M578.6 546.4L580.0 547.1L579.4 548.0M577.5 541.5L580.2 540.1L581.6 539.3M569.6 540.6L569.3 539.7L570.5 540.1M577.4 538.8L576.1 537.3L575.3 536.9M584.1 529.3L585.2 529.0L587.2 527.2M574.6 536.7L575.2 536.8L576.4 538.8M575.7 544.6L577.5 544.9L578.6 545.5M567.6 540.5L567.5 541.7L566.9 542.4M578.8 545.1L579.3 545.1L581.2 545.1M576.2 522.8L576.1 522.0L577.4 522.0M567.0 532.1L567.9 530.8L568.0 530.8M562.8 541.1L562.3 540.0L562.4 538.5M574.9 544.7L573.9 544.1L573.7 541.9M580.1 522.9L581.2 520.4L580.6 518.0M583.5 542.9L584.1 543.1L585.8 545.1M584.6 541.9L585.5 540.8L588.2 540.3M581.2 540.4L582.3 538.8L583.0 538.5M572.1 529.4L571.5 529.5L572.5 527.8M572.9 530.0L575.7 530.3L577.1 531.2M584.4 541.1L585.0 540.9L585.6 539.4M566.7 533.4L567.5 532.8L567.5 533.6M576.5 542.2L578.0 542.2L577.6 541.4M586.9 527.5L588.6 526.7L590.6 527.4M564.6 536.3L565.3 535.3L567.5 535.0M572.4 542.3L572.5 540.0L573.9 538.3" stroke-width="2.3"/>
<path d="M573.7 524.8L574.3 527.0L575.8 529.1M572.1 527.0L572.3 527.8L573.1 527.4M571.4 528.7L572.2 528.9L572.6 530.0M567.0 542.3L569.4 541.0L571.0 540.7M584.1 538.8L586.1 539.9L587.1 540.3M573.6 528.5L575.0 529.0L574.6 529.8M578.6 541.1L578.1 539.8L579.5 538.9M565.8 537.0L567.4 535.9L569.3 536.6M584.7 539.4L584.9 541.1L583.8 543.3M566.8 532.0L567.2 531.3L567.3 529.9M586.9 526.8L587.2 524.8L588.6 523.4M582.1 532.0L583.4 534.1L585.2 535.3M560.1 537.0L561.9 535.1L561.8 535.1M574.0 530.7L574.9 528.8L577.1 527.3" stroke-width="3.1"/>
<path d="M561.0 555.8L561.6 556.4" stroke-width="2.4"/>
<path d="M568.6 555.1L569.3 555.7" stroke-width="2.4"/>
<path d="M572.4 556.0L572.8 555.9" stroke-width="2.4"/>
<path d="M585.6 555.8L586.2 556.2" stroke-width="2.4"/>
<path d="M565.0 550.7L566.0 551.6" stroke-width="2.6"/>
<path d="M562.3 552.0L563.3 552.6" stroke-width="2.4"/>
<path d="M609.8 471.5L612.1 473.1L614.2 473.2" stroke-width="3.4"/>
<path d="M239.0 247.0L235.9 247.8L234.0 247.9L234.5 246.2L235.2 243.6L235.9 241.1L236.9 239.5L238.7 236.6" stroke-width="2.02"/>
<path d="M408.8 247.0L413.0 243.5L419.0 239.5" stroke-width="1.4"/>
<path d="M415.5 241.5L418.2 240.0L420.2 238.0" stroke-width="2.8"/>
<path d="M121.7 600.0L123.5 603.7L122.3 607.2L124.6 607.3L127.2 608.9L128.9 607.1L131.1 606.6L132.2 608.4L135.5 607.9L137.3 611.6L140.2 612.4L137.5 616.2L135.6 619.3L134.3 623.2L132.2 626.6L129.8 628.2L128.4 625.5L129.7 622.4L126.9 621.1L124.2 622.1L122.3 625.9L120.2 627.9L117.8 630.8L116.4 632.4L113.8 632.9L110.0 634.2L107.9 635.1L106.1 636.9L105.1 634.3L108.3 631.7L111.2 630.2L112.3 626.2L109.1 629.1L107.0 630.9L104.2 632.0L101.3 629.9L98.9 632.8L96.7 636.0L96.4 633.5L99.0 631.0L101.4 628.5L103.8 626.3L106.7 626.7L109.1 624.9" stroke-width="2.35"/>
<path d="M109.3 607.1L108.8 609.6L109.5 612.4L109.9 614.8L109.9 617.6L109.7 619.8L110.0 622.8L110.7 625.6L110.5 629.4" stroke-width="2.24"/>
<path d="M109.8 617.7L107.1 618.5L105.0 618.3L101.3 618.8L99.8 619.8L97.2 618.1L93.2 618.4L92.8 622.3L91.5 625.5L89.1 626.7L86.7 625.8" stroke-width="2.35"/>
<path d="M93.4 619.4L96.1 619.5L97.8 620.5L100.9 619.3L103.3 620.0L104.4 621.1L107.8 620.9" stroke-width="2.13"/>
<path d="M112.0 616.8L115.7 614.7L117.3 613.7L118.0 611.5L119.9 608.1L123.4 608.7L125.5 610.2L127.1 611.9" stroke-width="2.24"/>
<path d="M127.0 600.0L128.2 602.4L127.4 606.1" stroke-width="2.24"/>
<path d="M119.9 607.9L122.3 609.6L126.0 610.8" stroke-width="2.6"/>
<path d="M136.3 626.5L139.3 628.5L143.1 629.5L146.2 631.5L149.3 630.5L151.0 626.7L152.5 623.6L155.0 621.1L157.2 623.6L157.8 627.1L159.4 630.0L160.6 633.8L160.3 635.0L160.8 637.7L159.9 640.7L161.4 643.5L160.9 644.9L161.9 648.0L160.7 648.4L158.6 646.2L156.9 648.4L155.0 646.0L153.7 648.9L152.0 646.7L150.9 650.1L149.7 651.8L148.0 649.6L146.9 645.7L145.5 642.4L144.4 639.7L147.5 640.9L150.2 639.9L152.3 641.8L155.9 640.6L156.3 637.2L154.1 635.3L155.5 632.6L158.2 631.5" stroke-width="2.35"/>
<path d="M155.7 652.1L158.8 653.0L160.6 656.6L160.4 658.9L161.7 661.2L163.2 664.3L162.8 667.1L164.2 670.1L165.1 669.9L168.5 670.6" stroke-width="2.8"/>
<path d="M157.9 653.0L161.1 653.6L162.3 655.3L162.2 658.4" stroke-width="2.24"/>
<path d="M154.3 622.1L156.0 624.5L156.7 628.4" stroke-width="2.6"/>
<path d="M665.5 600.0L663.0 601.9L659.3 602.7L656.0 601.4L653.8 602.9L651.8 605.6L649.1 607.4L647.5 610.6L644.6 609.2L643.0 607.1L640.0 606.1L638.2 608.5L637.7 612.2L639.1 615.1L640.6 618.8L638.3 617.5L635.9 616.4L633.1 615.8L631.1 617.9L628.4 616.6L625.8 615.8L623.4 618.1L622.0 621.4L620.0 624.6L618.0 627.2L620.5 626.4L623.0 624.6L625.5 623.5L627.3 621.6L628.8 623.6L630.7 625.6L632.8 628.2L634.2 631.5L632.5 634.7L631.3 637.7L631.8 640.8L633.8 643.3L635.8 646.0L638.4 648.6L640.4 650.5L640.9 653.8L639.4 656.6L637.4 659.5L640.5 659.2L642.4 657.4L644.3 655.1L645.8 652.2L647.8 650.7L650.3 649.1L652.6 647.8L655.7 647.2L657.5 648.8" stroke-width="2.58"/>
<path d="M638.4 609.5L639.6 612.8L640.0 616.2" stroke-width="2.8"/>
<path d="M622.0 620.8L624.2 621.7L625.9 618.6L627.8 620.3" stroke-width="3.0"/>
<path d="M633.3 629.6L635.0 630.8L637.1 631.3" stroke-width="3.2"/>
<path d="M637.1 632.2L639.4 633.2L642.1 633.7L644.2 635.9L645.2 638.3L646.5 641.0L648.0 643.5L646.1 644.8L643.6 643.7L641.7 644.5L639.5 643.3L639.2 640.1L638.6 637.1L636.9 634.8L637.1 632.2Z" stroke-width="2.35"/>
<path d="M668.6 618.3L666.7 620.3L664.9 622.2L663.2 624.3L661.8 625.8L659.2 625.1L657.5 624.0L658.0 626.7L656.2 628.6L654.1 629.8L655.6 632.1L657.5 633.9L658.3 637.4L657.7 640.0L655.5 640.8L653.3 643.1L655.9 643.3L658.6 642.4L661.7 641.3L664.4 643.0L666.0 645.7L666.7 648.7L665.2 651.6L663.1 653.7L660.6 655.0L657.6 654.5L655.7 652.2L657.2 650.4L658.3 648.5" stroke-width="2.35"/>
<path d="M662.3 625.2L664.0 627.0L666.0 628.8L668.2 630.0L667.2 633.7L668.6 636.2L670.4 638.5L673.1 640.3L674.6 642.8L677.0 644.8L678.0 647.5L679.0 650.1L676.9 652.5L674.3 653.5L671.9 654.6L669.3 655.9L668.9 658.8L670.5 660.7L673.1 658.1L675.4 656.3L678.8 654.5L680.5 654.8L680.2 657.2L677.6 658.9L675.4 660.7L677.3 662.3L675.5 665.1L674.4 668.0L673.2 671.4L671.0 674.0L669.9 676.4L668.9 678.6L666.7 681.5L664.5 683.2L663.0 683.8L661.1 684.7L660.2 687.2L661.6 689.3L661.0 691.8L662.3 694.4L662.9 697.5L662.0 699.8" stroke-width="2.35"/>
<path d="M650.4 663.1L652.8 661.2L656.1 660.0L658.8 661.7L658.9 664.9L658.6 668.0L658.1 671.1L656.2 674.0L654.3 676.0L652.8 678.8L650.9 679.9L649.8 677.3L649.9 673.7L651.3 670.5L651.9 666.9L650.4 663.1Z" stroke-width="2.35"/>
<path d="M660.4 666.2L663.0 664.5L666.1 663.2L668.9 661.5L669.5 664.0L667.5 666.6L665.0 667.4L662.1 668.9L660.3 670.9L658.5 673.2" stroke-width="2.35"/>
<path d="M650.4 675.7L652.2 677.1L653.4 675.4" stroke-width="3.0"/>
<path d="M610.0 638.5L610.3 639.6" stroke-width="3.0"/>
<path d="M464.2 528.2L465.6 527.3L468.2 527.5L471.2 527.3L473.7 528.1L475.6 527.3L476.4 527.7L480.6 527.0L482.1 527.4L484.3 531.5L483.2 533.6L482.9 535.4L482.5 537.6L482.3 540.3L485.4 543.4L484.4 545.6L484.5 547.6L485.0 550.3L484.7 552.9L484.6 554.6L484.1 554.2L480.5 557.4L478.7 558.1L476.2 556.7L473.2 558.2L469.9 557.8L467.0 558.1L465.1 556.5L462.9 554.9L460.5 552.2L460.6 550.7L460.2 547.0L459.0 545.5L462.8 542.7L463.3 541.9L466.3 540.3L465.8 538.2L466.9 535.1L467.4 533.2L466.2 531.1L464.4 528.2Z" fill="#000" stroke-width="1.2"/>
<path d="M472.3 543.3L474.8 542.3L475.3 548.3L473.3 550.4Z" fill="#ff5000" stroke="none"/>
<path d="M470.3 557.4L472.3 556.9L472.1 559.4L470.5 559.6Z" fill="#ff5000" stroke="none"/>
<path d="M476.3 551.4L477.8 550.9L478.3 554.4L476.8 554.9Z" fill="#ff5000" stroke="none"/>
<path d="M480.4 512.0L481.0 515.7L479.9 519.8L478.9 523.9L480.6 527.3" stroke-width="3.0"/>
<path d="M473.3 564.5L476.5 566.3L479.7 565.0L481.4 562.7" stroke-width="3.0"/>
<path d="M280.8 270.0L277.1 270.8L275.1 272.2L273.6 275.5L274.8 277.3L277.5 279.8L276.9 282.4L275.0 283.7L272.5 281.9L269.2 282.9L266.5 283.6L263.9 286.0L265.2 288.3L268.1 287.0L271.0 286.2L274.2 284.9L276.7 284.0L277.0 286.7L274.5 288.0L273.2 290.0L273.9 292.5L275.0 295.5L277.2 296.9L280.4 296.8L283.1 294.3L285.4 295.5L288.4 294.5L292.1 294.9L289.9 296.5L287.7 297.1L284.7 297.8L283.5 299.5L281.0 301.1L278.8 301.6L277.9 304.5L278.5 306.9L280.5 308.5L281.5 310.2L279.9 312.6L277.1 313.3L273.9 313.9L271.0 314.4L268.5 312.1L266.9 314.3L265.5 316.1L262.2 316.9L259.7 317.1L256.9 318.4L256.5 321.2L256.7 324.7L257.9 327.5L257.9 329.8L260.0 330.2L261.4 327.5L262.6 326.1L265.5 325.4L268.7 324.7L271.6 325.0L274.8 323.3L277.0 323.5L279.6 322.6L281.1 320.6L279.1 318.3L279.5 316.1L282.4 313.6L285.2 314.3L288.3 313.9L290.7 312.7L293.1 313.3L295.7 312.2L297.2 310.1L299.8 308.8L298.5 306.5L301.0 305.0L303.3 302.4L304.7 299.3L307.5 297.2L310.7 294.7L313.8 294.4L315.8 291.6L316.4 288.5L319.5 289.7L321.9 288.5L324.8 287.7" stroke-width="2.13"/>
<path d="M263.7 291.7L266.5 290.4L269.9 289.1L272.9 291.4L271.7 294.5L268.9 295.8L265.1 294.5L263.8 291.4Z" fill="#000" stroke-width="1.2"/>
<path d="M285.4 314.4L288.5 313.2L290.7 315.0L289.3 317.1L287.1 318.6L285.8 317.1L285.4 314.1Z" fill="#000" stroke-width="1.2"/>
<path d="M277.8 301.8L278.7 304.4" stroke-width="3.0"/>
<path d="M297.0 307.8L299.8 308.6" stroke-width="3.0"/>
<path d="M316.1 289.2L317.5 290.1" stroke-width="2.8"/>
<path d="M744.2 560.4L743.7 564.1L745.2 567.7L743.7 571.8L745.6 575.7" stroke-width="2.13"/>
<path d="M754.3 563.5L756.6 561.4L760.6 562.7L761.0 566.4L758.4 568.5L755.3 567.6L755.7 566.2L754.2 563.7Z" fill="#000" stroke-width="1.2"/>
<path d="M739.8 576.1L742.6 574.8L746.4 576.4L749.0 576.1L752.9 574.5L757.1 574.7L754.4 577.3L750.6 579.3L747.4 578.5L744.5 580.5L741.5 582.5L740.6 579.3" stroke-width="2.4"/>
<path d="M738.5 609.8L740.2 608.1L741.5 606.0L743.8 604.2L746.3 602.4L748.3 600.9L750.5 600.5L752.8 600.7L755.6 599.3L756.3 601.3L752.1 603.2L750.7 605.2L747.7 605.8L745.7 607.5L743.6 608.3L741.7 609.2L738.6 609.5Z" fill="#000" stroke-width="1.2"/>
<path d="M755.6 602.0L754.9 605.6L757.0 608.4L759.1 610.2L762.7 609.1L763.2 611.2L764.3 613.6L762.7 616.1L759.0 615.0L760.9 618.3L761.7 620.1" stroke-width="2.13"/>
<path d="M773.9 563.5L776.9 562.0L778.6 563.9" stroke-width="2.6"/>
<path d="M433.4 294.0L435.6 297.0L439.3 298.0" stroke-width="3.2"/>
<path d="M428.4 330.5L431.5 333.0L434.3 333.2L435.7 332.5L437.9 332.9L440.5 334.4L443.4 336.5" stroke-width="3.4"/>
<path d="M438.5 284.5L441.5 284.0L443.3 286.1" stroke-width="3.0"/>
<path d="M417.7 341.9L421.0 342.4L422.4 341.0L423.4 339.0" stroke-width="3.0"/>
</g>
<g fill="none" stroke="#000" stroke-width="1.67" stroke-dasharray="1.67 1.67">
<line x1="227.98" y1="67.20" x2="180.00" y2="786.80"/>
<line x1="419.00" y1="67.20" x2="419.00" y2="786.80"/>
<line x1="610.68" y1="67.20" x2="658.82" y2="786.80"/>
<path d="M59.00 244.07A3063.3 3063.3 0 0 0 779.00 244.07"/>
<path d="M59.00 515.00A3332.5 3332.5 0 0 0 779.00 515.00"/>
</g>
<g fill="none" stroke="#808080" stroke-width="2.1">
<path d="M59.0 138.3C64.2 138.6 78.5 139.4 90.0 139.9C101.5 140.4 121.4 141.3 127.7 141.6"/>
<path d="M189.0 142.4C199.2 142.2 223.2 142.3 250.0 141.5C276.8 140.7 318.3 139.1 350.0 137.7C381.7 136.3 408.3 134.9 440.0 133.1C471.7 131.3 513.3 128.7 540.0 126.8C566.7 124.9 583.3 122.9 600.0 121.5C616.7 120.1 610.2 121.2 640.0 118.5C669.8 115.8 755.8 107.5 779.0 105.3"/>
<path d="M59.0 315.9C74.3 316.7 119.1 319.9 150.9 320.9C182.7 321.9 221.8 322.0 250.0 321.9C278.2 321.8 308.4 320.4 320.1 320.1"/>
<path d="M381.9 317.6C393.2 317.2 423.6 316.2 450.0 315.0C476.4 313.8 515.0 311.7 540.0 310.4C565.0 309.1 581.5 308.0 600.0 307.0C618.5 306.0 642.6 304.8 651.1 304.3"/>
<path d="M713.2 301.9C724.2 301.5 768.0 299.8 779.0 299.4"/>
</g>
<path d="M59.0 425.3C74.3 426.1 119.1 428.8 150.9 429.9C182.7 431.0 216.8 432.1 250.0 432.2C283.2 432.3 316.7 431.5 350.0 430.6C383.3 429.8 418.3 428.4 450.0 427.1C481.7 425.8 515.0 423.7 540.0 422.7C565.0 421.7 583.3 421.7 600.0 421.1C616.7 420.6 623.8 420.2 640.0 419.4C656.2 418.6 673.8 417.5 697.0 416.5C720.2 415.5 765.3 413.8 779.0 413.3" fill="none" stroke="#000" stroke-width="3.05" stroke-dasharray="11.27 4.887" stroke-dashoffset="4.7"/>
<path d="M59.0 556.9C72.5 557.2 108.2 559.3 140.0 559.0C171.8 558.7 215.0 556.6 250.0 554.9C285.0 553.2 321.7 550.6 350.0 548.6C378.3 546.6 403.3 544.4 420.0 543.0C436.7 541.6 433.3 542.1 450.0 540.5C466.7 538.9 496.2 536.0 520.0 533.5C543.8 531.0 576.3 527.8 593.0 525.7C609.7 523.6 603.3 524.0 620.0 521.1C636.7 518.2 666.5 513.3 693.0 508.6C719.5 503.9 764.7 495.6 779.0 493.0" fill="none" stroke="#008000" stroke-width="2.5" stroke-dasharray="9.25 4.0" stroke-dashoffset="11.8"/>
</g>
<text x="136.48" y="146.75" font-size="16.54" textLength="44.64" lengthAdjust="spacingAndGlyphs" fill="#000" transform="rotate(1.20 158.8 141.0)">12480</text>
<text x="329.18" y="324.95" font-size="16.54" textLength="44.64" lengthAdjust="spacingAndGlyphs" fill="#000" transform="rotate(-2.20 351.5 319.0)">12540</text>
<text x="660.18" y="308.75" font-size="16.54" textLength="44.64" lengthAdjust="spacingAndGlyphs" fill="#000" transform="rotate(-3.20 682.5 303.0)">12540</text>
<rect x="59.0" y="67.2" width="720.0" height="719.6" fill="none" stroke="#000" stroke-width="1.5"/>
<text y="30.65" font-size="22.08" fill="#000"><tspan x="59.00" textLength="77.36" lengthAdjust="spacingAndGlyphs">200hPa</tspan> <tspan x="142.98" textLength="44.37" lengthAdjust="spacingAndGlyphs">GPH</tspan> <tspan x="193.98" textLength="56.76" lengthAdjust="spacingAndGlyphs">Mean</tspan> <tspan x="257.36" textLength="89.89" lengthAdjust="spacingAndGlyphs">anomaly</tspan> <tspan x="353.88" textLength="25.55" lengthAdjust="spacingAndGlyphs">by</tspan> <tspan x="386.05" textLength="96.03" lengthAdjust="spacingAndGlyphs">GS6-KMA</tspan> <tspan x="488.70" textLength="44.20" lengthAdjust="spacingAndGlyphs">with</tspan> <tspan x="539.52" textLength="64.29" lengthAdjust="spacingAndGlyphs">HCST(</tspan><tspan x="603.81" textLength="53.02" lengthAdjust="spacingAndGlyphs">1993</tspan><tspan x="656.83" textLength="17.46" lengthAdjust="spacingAndGlyphs">~</tspan><tspan x="674.29" textLength="61.15" lengthAdjust="spacingAndGlyphs">2016)</tspan></text>
<text y="53.95" font-size="22.08" fill="#000"><tspan x="59.00" textLength="127.41" lengthAdjust="spacingAndGlyphs">[2024.08.01</tspan><tspan x="186.41" textLength="17.46" lengthAdjust="spacingAndGlyphs">~</tspan><tspan x="203.87" textLength="127.41" lengthAdjust="spacingAndGlyphs">2024.08.31]</tspan> <tspan x="337.90" textLength="11.98" lengthAdjust="spacingAndGlyphs">F</tspan> <tspan x="356.50" textLength="59.50" lengthAdjust="spacingAndGlyphs">3mon</tspan></text>
<text x="610.08" y="54.05" font-size="19.82" textLength="169.52" lengthAdjust="spacingAndGlyphs" fill="#000">I.Date:2024.05.13</text>
<text x="16.33" y="247.65" font-size="16.54" textLength="35.37" lengthAdjust="spacingAndGlyphs" fill="#000">40°N</text>
<text x="15.33" y="519.75" font-size="16.54" textLength="35.37" lengthAdjust="spacingAndGlyphs" fill="#000">35°N</text>
<text x="158.67" y="805.85" font-size="16.54" textLength="42.66" lengthAdjust="spacingAndGlyphs" fill="#000">120°E</text>
<text x="398.17" y="805.85" font-size="16.54" textLength="42.66" lengthAdjust="spacingAndGlyphs" fill="#000">125°E</text>
<text x="637.67" y="805.85" font-size="16.54" textLength="42.66" lengthAdjust="spacingAndGlyphs" fill="#000">130°E</text>
<rect x="91.70" y="822.40" width="32.30" height="36.10" fill="#0000ff" shape-rendering="crispEdges"/>
<rect x="124.00" y="822.40" width="33.00" height="36.10" fill="#2a43ea" shape-rendering="crispEdges"/>
<rect x="157.00" y="822.40" width="33.00" height="36.10" fill="#4166e0" shape-rendering="crispEdges"/>
<rect x="190.00" y="822.40" width="33.00" height="36.10" fill="#2d7bf0" shape-rendering="crispEdges"/>
<rect x="223.00" y="822.40" width="32.00" height="36.10" fill="#1e90ff" shape-rendering="crispEdges"/>
<rect x="255.00" y="822.40" width="33.00" height="36.10" fill="#63c5f5" shape-rendering="crispEdges"/>
<rect x="288.00" y="822.40" width="33.00" height="36.10" fill="#99d1f0" shape-rendering="crispEdges"/>
<rect x="321.00" y="822.40" width="32.00" height="36.10" fill="#b8dff5" shape-rendering="crispEdges"/>
<rect x="353.00" y="822.40" width="33.00" height="36.10" fill="#c8e8f8" shape-rendering="crispEdges"/>
<rect x="386.00" y="822.40" width="33.00" height="36.10" fill="#e1fbff" shape-rendering="crispEdges"/>
<rect x="419.00" y="822.40" width="32.00" height="36.10" fill="#ffffe0" shape-rendering="crispEdges"/>
<rect x="451.00" y="822.40" width="33.00" height="36.10" fill="#fffbbf" shape-rendering="crispEdges"/>
<rect x="484.00" y="822.40" width="33.00" height="36.10" fill="#ffeb5f" shape-rendering="crispEdges"/>
<rect x="517.00" y="822.40" width="33.00" height="36.10" fill="#ffd428" shape-rendering="crispEdges"/>
<rect x="550.00" y="822.40" width="32.00" height="36.10" fill="#ffb812" shape-rendering="crispEdges"/>
<rect x="582.00" y="822.40" width="33.00" height="36.10" fill="#ff7d00" shape-rendering="crispEdges"/>
<rect x="615.00" y="822.40" width="33.00" height="36.10" fill="#ff5000" shape-rendering="crispEdges"/>
<rect x="648.00" y="822.40" width="32.00" height="36.10" fill="#ff1800" shape-rendering="crispEdges"/>
<rect x="680.00" y="822.40" width="33.00" height="36.10" fill="#e80000" shape-rendering="crispEdges"/>
<rect x="713.00" y="822.40" width="32.80" height="36.10" fill="#cc0000" shape-rendering="crispEdges"/>
<path d="M93.70 822.40L91.70 822.40L59.00 840.45L91.70 858.50L93.70 858.50Z" fill="#0000ff"/>
<path d="M743.80 822.40L745.80 822.40L778.51 840.45L745.80 858.50L743.80 858.50Z" fill="#cc0000"/>
<path d="M91.70 822.40L745.80 822.40L778.51 840.45L745.80 858.50L91.70 858.50L59.00 840.45Z" fill="none" stroke="#000" stroke-width="1.1" stroke-linejoin="miter"/>
<line x1="124.41" y1="858.50" x2="124.41" y2="864.10" stroke="#000" stroke-width="1.25"/>
<text x="105.14" y="880.05" font-size="16.54" textLength="38.54" lengthAdjust="spacingAndGlyphs" fill="#000">−108</text>
<line x1="222.52" y1="858.50" x2="222.52" y2="864.10" stroke="#000" stroke-width="1.25"/>
<text x="207.72" y="880.05" font-size="16.54" textLength="29.62" lengthAdjust="spacingAndGlyphs" fill="#000">−72</text>
<line x1="320.64" y1="858.50" x2="320.64" y2="864.10" stroke="#000" stroke-width="1.25"/>
<text x="305.83" y="880.05" font-size="16.54" textLength="29.62" lengthAdjust="spacingAndGlyphs" fill="#000">−36</text>
<line x1="418.75" y1="858.50" x2="418.75" y2="864.10" stroke="#000" stroke-width="1.25"/>
<text x="414.29" y="880.05" font-size="16.54" textLength="8.93" lengthAdjust="spacingAndGlyphs" fill="#000">0</text>
<line x1="516.87" y1="858.50" x2="516.87" y2="864.10" stroke="#000" stroke-width="1.25"/>
<text x="507.94" y="880.05" font-size="16.54" textLength="17.85" lengthAdjust="spacingAndGlyphs" fill="#000">36</text>
<line x1="614.99" y1="858.50" x2="614.99" y2="864.10" stroke="#000" stroke-width="1.25"/>
<text x="606.06" y="880.05" font-size="16.54" textLength="17.85" lengthAdjust="spacingAndGlyphs" fill="#000">72</text>
<line x1="713.10" y1="858.50" x2="713.10" y2="864.10" stroke="#000" stroke-width="1.25"/>
<text x="699.71" y="880.05" font-size="16.54" textLength="26.78" lengthAdjust="spacingAndGlyphs" fill="#000">108</text>
</svg></body></html>
